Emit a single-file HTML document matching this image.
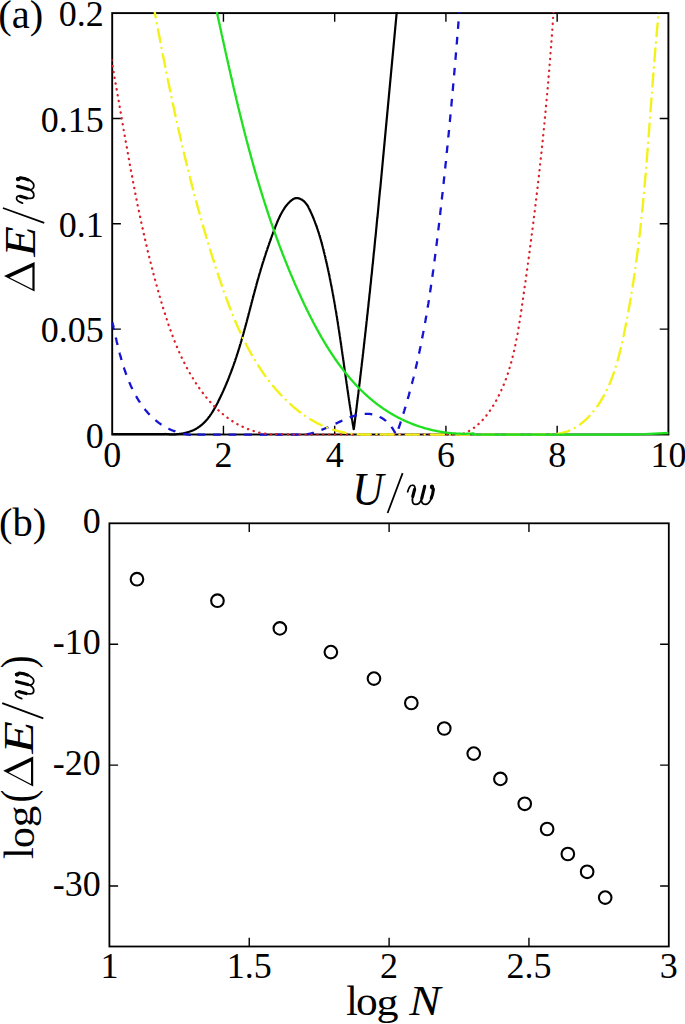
<!DOCTYPE html>
<html><head><meta charset="utf-8"><style>
html,body{margin:0;padding:0;background:#fff;}
body{width:685px;height:1024px;overflow:hidden;font-family:"Liberation Serif",serif;}
svg{display:block;}
</style></head><body>
<svg width="685" height="1024" viewBox="0 0 685 1024">
<defs><clipPath id="ca"><rect x="111.2" y="12.1" width="558.2" height="423.9"/></clipPath></defs>
<g fill="none" stroke="#000">
<rect x="112.20" y="13.10" width="556.20" height="421.40" stroke-width="1.9"/>
<path d="M223.44,434.50 V425.80 M223.44,13.10 V21.80 M334.68,434.50 V425.80 M334.68,13.10 V21.80 M445.92,434.50 V425.80 M445.92,13.10 V21.80 M557.16,434.50 V425.80 M557.16,13.10 V21.80 M112.20,329.15 H120.90 M668.40,329.15 H659.70 M112.20,223.80 H120.90 M668.40,223.80 H659.70 M112.20,118.45 H120.90 M668.40,118.45 H659.70" stroke-width="1.4"/>
</g>
<g clip-path="url(#ca)" fill="none" stroke-linejoin="round">
<path d="M112.20,434.20 L165.00,434.10 L165.1,433.9 L165.6,434.0 L166.1,434.0 L166.7,434.1 L167.2,434.1 L167.7,434.2 L168.3,434.2 L168.8,434.2 L169.4,434.3 L169.9,434.3 L170.5,434.3 L171.0,434.3 L171.6,434.3 L172.1,434.4 L172.7,434.3 L173.3,434.3 L173.8,434.3 L174.4,434.3 L175.0,434.3 L175.5,434.3 L176.1,434.2 L176.7,434.2 L177.2,434.1 L177.8,434.1 L178.4,434.0 L179.0,434.0 L179.5,433.9 L180.1,433.8 L180.7,433.8 L181.2,433.7 L181.8,433.6 L182.4,433.5 L183.0,433.4 L183.5,433.3 L184.1,433.2 L184.7,433.0 L185.2,432.9 L185.8,432.8 L186.3,432.6 L186.9,432.5 L187.4,432.3 L188.0,432.2 L188.5,432.0 L189.1,431.8 L189.6,431.6 L190.2,431.5 L190.7,431.3 L191.2,431.1 L191.7,430.9 L192.3,430.6 L192.8,430.4 L193.3,430.2 L193.8,430.0 L194.3,429.7 L194.8,429.5 L195.3,429.2 L195.8,429.0 L196.2,428.7 L196.7,428.4 L197.2,428.1 L197.6,427.8 L198.1,427.5 L198.5,427.2 L199.0,426.9 L199.4,426.6 L199.9,426.3 L200.3,426.0 L200.7,425.6 L201.2,425.3 L201.6,424.9 L202.0,424.6 L202.4,424.2 L202.8,423.9 L203.2,423.5 L203.6,423.1 L204.0,422.7 L204.4,422.4 L204.7,422.0 L205.1,421.6 L205.5,421.2 L205.9,420.8 L206.2,420.4 L206.6,420.0 L207.0,419.5 L207.3,419.1 L207.7,418.7 L208.0,418.3 L208.3,417.8 L208.7,417.4 L209.0,417.0 L209.4,416.5 L209.7,416.1 L210.0,415.6 L210.3,415.2 L210.6,414.7 L211.0,414.2 L211.3,413.8 L211.6,413.3 L211.9,412.8 L212.2,412.4 L212.5,411.9 L212.8,411.4 L213.1,410.9 L213.4,410.4 L213.7,410.0 L214.0,409.5 L214.2,409.0 L214.5,408.5 L214.8,408.0 L215.1,407.5 L215.4,407.0 L215.6,406.5 L215.9,406.0 L216.2,405.5 L216.4,405.0 L216.7,404.5 L217.0,404.0 L217.2,403.5 L217.5,403.0 L217.8,402.5 L218.0,402.0 L218.3,401.4 L218.5,400.9 L218.8,400.4 L219.0,399.9 L219.3,399.4 L219.5,398.9 L219.8,398.4 L220.0,397.9 L220.3,397.4 L220.5,396.8 L220.8,396.3 L221.0,395.8 L221.2,395.3 L221.5,394.8 L221.7,394.3 L222.0,393.8 L222.2,393.3 L222.4,392.7 L222.7,392.2 L222.9,391.7 L223.1,391.2 L223.4,390.7 L223.6,390.2 L223.8,389.7 L224.1,389.1 L224.3,388.6 L224.5,388.1 L224.7,387.6 L225.0,387.1 L225.2,386.6 L225.4,386.0 L225.6,385.5 L225.8,385.0 L226.1,384.5 L226.3,384.0 L226.5,383.5 L226.7,383.0 L226.9,382.4 L227.1,381.9 L227.4,381.4 L227.6,380.9 L227.8,380.4 L228.0,379.8 L228.2,379.3 L228.4,378.8 L228.6,378.3 L228.8,377.8 L229.0,377.3 L229.2,376.7 L229.4,376.2 L229.6,375.7 L229.8,375.2 L230.0,374.7 L230.2,374.1 L230.4,373.6 L230.6,373.1 L230.8,372.6 L231.0,372.1 L231.2,371.5 L231.4,371.0 L231.6,370.5 L231.8,370.0 L232.0,369.4 L232.2,368.9 L232.4,368.4 L232.6,367.9 L232.8,367.4 L232.9,366.8 L233.1,366.3 L233.3,365.8 L233.5,365.3 L233.7,364.7 L233.9,364.2 L234.1,363.7 L234.2,363.2 L234.4,362.6 L234.6,362.1 L234.8,361.6 L235.0,361.1 L235.2,360.5 L235.3,360.0 L235.5,359.5 L235.7,358.9 L235.9,358.4 L236.0,357.9 L236.2,357.4 L236.4,356.8 L236.6,356.3 L236.7,355.8 L236.9,355.2 L237.1,354.7 L237.3,354.2 L237.4,353.7 L237.6,353.1 L237.8,352.6 L237.9,352.1 L238.1,351.5 L238.3,351.0 L238.4,350.5 L238.6,349.9 L238.8,349.4 L238.9,348.9 L239.1,348.3 L239.3,347.8 L239.4,347.3 L239.6,346.7 L239.8,346.2 L239.9,345.7 L240.1,345.1 L240.2,344.6 L240.4,344.1 L240.6,343.5 L240.7,343.0 L240.9,342.4 L241.0,341.9 L241.2,341.4 L241.4,340.8 L241.5,340.3 L241.7,339.7 L241.8,339.2 L242.0,338.7 L242.1,338.1 L242.3,337.6 L242.5,337.0 L242.6,336.5 L242.8,336.0 L242.9,335.4 L243.1,334.9 L243.2,334.3 L243.4,333.8 L243.5,333.3 L243.7,332.7 L243.8,332.2 L244.0,331.6 L244.1,331.1 L244.3,330.5 L244.4,330.0 L244.6,329.4 L244.7,328.9 L244.9,328.4 L245.0,327.8 L245.2,327.3 L245.3,326.7 L245.5,326.2 L245.6,325.6 L245.8,325.1 L245.9,324.5 L246.1,324.0 L246.2,323.4 L246.4,322.9 L246.5,322.3 L246.7,321.8 L246.8,321.3 L246.9,320.7 L247.1,320.2 L247.2,319.6 L247.4,319.1 L247.5,318.5 L247.7,318.0 L247.8,317.4 L248.0,316.9 L248.1,316.3 L248.3,315.8 L248.4,315.2 L248.5,314.7 L248.7,314.1 L248.8,313.6 L249.0,313.0 L249.1,312.5 L249.3,311.9 L249.4,311.4 L249.5,310.8 L249.7,310.3 L249.8,309.7 L250.0,309.2 L250.1,308.6 L250.3,308.1 L250.4,307.5 L250.5,307.0 L250.7,306.5 L250.8,305.9 L251.0,305.4 L251.1,304.8 L251.3,304.3 L251.4,303.7 L251.5,303.2 L251.7,302.6 L251.8,302.1 L252.0,301.5 L252.1,301.0 L252.3,300.4 L252.4,299.9 L252.5,299.4 L252.7,298.8 L252.8,298.3 L253.0,297.7 L253.1,297.2 L253.3,296.6 L253.4,296.1 L253.5,295.5 L253.7,295.0 L253.8,294.5 L254.0,293.9 L254.1,293.4 L254.3,292.8 L254.4,292.3 L254.6,291.7 L254.7,291.2 L254.8,290.7 L255.0,290.1 L255.1,289.6 L255.3,289.0 L255.4,288.5 L255.6,288.0 L255.7,287.4 L255.9,286.9 L256.0,286.4 L256.2,285.8 L256.3,285.3 L256.4,284.7 L256.6,284.2 L256.7,283.7 L256.9,283.1 L257.0,282.6 L257.2,282.1 L257.3,281.5 L257.5,281.0 L257.6,280.5 L257.8,279.9 L257.9,279.4 L258.1,278.9 L258.2,278.4 L258.4,277.8 L258.5,277.3 L258.7,276.8 L258.8,276.2 L259.0,275.7 L259.1,275.2 L259.3,274.7 L259.4,274.1 L259.6,273.6 L259.7,273.1 L259.9,272.6 L260.1,272.0 L260.2,271.5 L260.4,271.0 L260.5,270.5 L260.7,269.9 L260.8,269.4 L261.0,268.9 L261.1,268.4 L261.3,267.8 L261.5,267.3 L261.6,266.8 L261.8,266.3 L261.9,265.8 L262.1,265.2 L262.3,264.7 L262.4,264.2 L262.6,263.7 L262.7,263.1 L262.9,262.6 L263.1,262.1 L263.2,261.6 L263.4,261.1 L263.6,260.5 L263.7,260.0 L263.9,259.5 L264.1,259.0 L264.2,258.4 L264.4,257.9 L264.6,257.4 L264.7,256.9 L264.9,256.4 L265.1,255.8 L265.2,255.3 L265.4,254.8 L265.6,254.3 L265.8,253.7 L265.9,253.2 L266.1,252.7 L266.3,252.2 L266.4,251.6 L266.6,251.1 L266.8,250.6 L267.0,250.1 L267.2,249.5 L267.3,249.0 L267.5,248.5 L267.7,248.0 L267.9,247.4 L268.1,246.9 L268.2,246.4 L268.4,245.9 L268.6,245.3 L268.8,244.8 L269.0,244.3 L269.2,243.7 L269.3,243.2 L269.5,242.7 L269.7,242.1 L269.9,241.6 L270.1,241.1 L270.3,240.5 L270.5,240.0 L270.7,239.5 L270.9,238.9 L271.0,238.4 L271.2,237.9 L271.4,237.3 L271.6,236.8 L271.8,236.2 L272.0,235.7 L272.2,235.2 L272.4,234.6 L272.6,234.1 L272.8,233.5 L273.0,233.0 L273.2,232.4 L273.4,231.9 L273.6,231.4 L273.8,230.8 L274.0,230.3 L274.3,229.7 L274.5,229.2 L274.7,228.6 L274.9,228.1 L275.1,227.5 L275.3,226.9 L275.5,226.4 L275.7,225.8 L276.0,225.3 L276.2,224.7 L276.4,224.2 L276.6,223.6 L276.8,223.1 L277.1,222.5 L277.3,222.0 L277.5,221.4 L277.8,220.9 L278.0,220.4 L278.2,219.8 L278.5,219.3 L278.7,218.7 L279.0,218.2 L279.2,217.7 L279.5,217.1 L279.7,216.6 L280.0,216.1 L280.2,215.6 L280.5,215.0 L280.7,214.5 L281.0,214.0 L281.3,213.5 L281.6,213.0 L281.8,212.5 L282.1,212.0 L282.4,211.5 L282.7,211.0 L283.0,210.5 L283.3,210.0 L283.6,209.5 L283.9,209.1 L284.2,208.6 L284.5,208.1 L284.8,207.7 L285.1,207.2 L285.4,206.8 L285.8,206.3 L286.1,205.9 L286.4,205.5 L286.8,205.0 L287.1,204.6 L287.5,204.2 L287.8,203.8 L288.2,203.4 L288.6,203.0 L288.9,202.6 L289.3,202.3 L289.7,201.9 L290.1,201.5 L290.5,201.2 L290.9,200.8 L291.3,200.5 L291.7,200.2 L292.1,199.9 L292.5,199.6 L292.9,199.3 L293.3,199.0 L293.8,198.8 L294.2,198.6 L294.7,198.5 L295.1,198.3 L295.6,198.2 L296.1,198.1 L296.5,198.1 L297.0,198.1 L297.5,198.1 L298.0,198.2 L298.5,198.3 L299.0,198.4 L299.4,198.6 L299.9,198.7 L300.4,198.9 L300.9,199.2 L301.4,199.4 L301.9,199.7 L302.3,200.0 L302.8,200.3 L303.2,200.7 L303.7,201.0 L304.1,201.4 L304.5,201.8 L304.9,202.2 L305.3,202.6 L305.7,203.1 L306.0,203.5 L306.4,204.0 L306.7,204.5 L307.1,204.9 L307.4,205.4 L307.7,205.9 L308.0,206.4 L308.3,206.9 L308.5,207.4 L308.8,208.0 L309.1,208.5 L309.3,209.0 L309.6,209.5 L309.8,210.1 L310.1,210.6 L310.3,211.1 L310.6,211.6 L310.8,212.2 L311.1,212.7 L311.3,213.2 L311.5,213.7 L311.8,214.3 L312.0,214.8 L312.2,215.3 L312.5,215.9 L312.7,216.4 L312.9,216.9 L313.1,217.5 L313.4,218.0 L313.6,218.5 L313.8,219.0 L314.0,219.6 L314.2,220.1 L314.4,220.6 L314.6,221.2 L314.8,221.7 L315.0,222.2 L315.2,222.8 L315.4,223.3 L315.6,223.8 L315.8,224.4 L316.0,224.9 L316.2,225.4 L316.4,226.0 L316.6,226.5 L316.8,227.0 L317.0,227.6 L317.1,228.1 L317.3,228.6 L317.5,229.2 L317.7,229.7 L317.9,230.2 L318.0,230.8 L318.2,231.3 L318.4,231.8 L318.6,232.4 L318.7,232.9 L318.9,233.4 L319.1,234.0 L319.2,234.5 L319.4,235.1 L319.6,235.6 L319.7,236.1 L319.9,236.7 L320.0,237.2 L320.2,237.7 L320.4,238.3 L320.5,238.8 L320.7,239.4 L320.8,239.9 L321.0,240.4 L321.1,241.0 L321.3,241.5 L321.4,242.0 L321.6,242.6 L321.7,243.1 L321.9,243.7 L322.0,244.2 L322.1,244.7 L322.3,245.3 L322.4,245.8 L322.6,246.4 L322.7,246.9 L322.9,247.4 L323.0,248.0 L323.1,248.5 L323.3,249.1 L323.4,249.6 L323.5,250.1 L323.7,250.7 L323.8,251.2 L323.9,251.8 L324.1,252.3 L324.2,252.8 L324.3,253.4 L324.5,253.9 L324.6,254.5 L324.7,255.0 L324.9,255.6 L325.0,256.1 L325.1,256.6 L325.3,257.2 L325.4,257.7 L325.5,258.3 L325.6,258.8 L325.8,259.4 L325.9,259.9 L326.0,260.5 L326.1,261.0 L326.3,261.5 L326.4,262.1 L326.5,262.6 L326.6,263.2 L326.8,263.7 L326.9,264.3 L327.0,264.8 L327.1,265.4 L327.3,265.9 L327.4,266.4 L327.5,267.0 L327.6,267.5 L327.7,268.1 L327.9,268.6 L328.0,269.2 L328.1,269.7 L328.2,270.3 L328.3,270.8 L328.4,271.4 L328.6,271.9 L328.7,272.4 L328.8,273.0 L328.9,273.5 L329.0,274.1 L329.1,274.6 L329.3,275.2 L329.4,275.7 L329.5,276.3 L329.6,276.8 L329.7,277.4 L329.8,277.9 L329.9,278.5 L330.0,279.0 L330.1,279.6 L330.3,280.1 L330.4,280.7 L330.5,281.2 L330.6,281.8 L330.7,282.3 L330.8,282.9 L330.9,283.4 L331.0,284.0 L331.1,284.5 L331.2,285.1 L331.3,285.6 L331.4,286.2 L331.6,286.7 L331.7,287.3 L331.8,287.8 L331.9,288.4 L332.0,288.9 L332.1,289.5 L332.2,290.0 L332.3,290.6 L332.4,291.1 L332.5,291.7 L332.6,292.2 L332.7,292.8 L332.8,293.3 L332.9,293.9 L333.0,294.4 L333.1,295.0 L333.2,295.5 L333.3,296.1 L333.4,296.6 L333.5,297.2 L333.6,297.7 L333.7,298.3 L333.8,298.8 L333.9,299.4 L334.0,299.9 L334.1,300.5 L334.2,301.0 L334.3,301.6 L334.4,302.1 L334.5,302.7 L334.6,303.2 L334.7,303.8 L334.8,304.3 L334.9,304.9 L335.0,305.4 L335.0,306.0 L335.1,306.5 L335.2,307.1 L335.3,307.7 L335.4,308.2 L335.5,308.8 L335.6,309.3 L335.7,309.9 L335.8,310.4 L335.9,311.0 L336.0,311.5 L336.1,312.1 L336.2,312.6 L336.3,313.2 L336.3,313.7 L336.4,314.3 L336.5,314.8 L336.6,315.4 L336.7,316.0 L336.8,316.5 L336.9,317.1 L337.0,317.6 L337.1,318.2 L337.2,318.7 L337.2,319.3 L337.3,319.8 L337.4,320.4 L337.5,320.9 L337.6,321.5 L337.7,322.1 L337.8,322.6 L337.9,323.2 L337.9,323.7 L338.0,324.3 L338.1,324.8 L338.2,325.4 L338.3,325.9 L338.4,326.5 L338.5,327.0 L338.5,327.6 L338.6,328.2 L338.7,328.7 L338.8,329.3 L338.9,329.8 L339.0,330.4 L339.1,330.9 L339.1,331.5 L339.2,332.0 L339.3,332.6 L339.4,333.1 L339.5,333.7 L339.6,334.3 L339.6,334.8 L339.7,335.4 L339.8,335.9 L339.9,336.5 L340.0,337.0 L340.1,337.6 L340.1,338.1 L340.2,338.7 L340.3,339.3 L340.4,339.8 L340.5,340.4 L340.6,340.9 L340.6,341.5 L340.7,342.0 L340.8,342.6 L340.9,343.1 L341.0,343.7 L341.0,344.3 L341.1,344.8 L341.2,345.4 L341.3,345.9 L341.4,346.5 L341.4,347.0 L341.5,347.6 L341.6,348.2 L341.7,348.7 L341.8,349.3 L341.8,349.8 L341.9,350.4 L342.0,350.9 L342.1,351.5 L342.2,352.0 L342.2,352.6 L342.3,353.2 L342.4,353.7 L342.5,354.3 L342.6,354.8 L342.6,355.4 L342.7,355.9 L342.8,356.5 L342.9,357.0 L343.0,357.6 L343.0,358.2 L343.1,358.7 L343.2,359.3 L343.3,359.8 L343.4,360.4 L343.4,360.9 L343.5,361.5 L343.6,362.1 L343.7,362.6 L343.8,363.2 L343.8,363.7 L343.9,364.3 L344.0,364.8 L344.1,365.4 L344.1,365.9 L344.2,366.5 L344.3,367.1 L344.4,367.6 L344.5,368.2 L344.5,368.7 L344.6,369.3 L344.7,369.8 L344.8,370.4 L344.9,370.9 L344.9,371.5 L345.0,372.1 L345.1,372.6 L345.2,373.2 L345.3,373.7 L345.3,374.3 L345.4,374.8 L345.5,375.4 L345.6,376.0 L345.6,376.5 L345.7,377.1 L345.8,377.6 L345.9,378.2 L346.0,378.7 L346.0,379.3 L346.1,379.8 L346.2,380.4 L346.3,381.0 L346.4,381.5 L346.4,382.1 L346.5,382.6 L346.6,383.2 L346.7,383.7 L346.8,384.3 L346.8,384.8 L346.9,385.4 L347.0,385.9 L347.1,386.5 L347.2,387.1 L347.2,387.6 L347.3,388.2 L347.4,388.7 L347.5,389.3 L347.6,389.8 L347.6,390.4 L347.7,390.9 L347.8,391.5 L347.9,392.1 L348.0,392.6 L348.0,393.2 L348.1,393.7 L348.2,394.3 L348.3,394.8 L348.4,395.4 L348.4,395.9 L348.5,396.5 L348.6,397.0 L348.7,397.6 L348.8,398.2 L348.9,398.7 L348.9,399.3 L349.0,399.8 L349.1,400.4 L349.2,400.9 L349.3,401.5 L349.4,402.0 L349.4,402.6 L349.5,403.1 L349.6,403.7 L349.7,404.2 L349.8,404.8 L349.9,405.3 L349.9,405.9 L350.0,406.5 L350.1,407.0 L350.2,407.6 L350.3,408.1 L350.4,408.7 L350.4,409.2 L350.5,409.8 L350.6,410.3 L350.7,410.9 L350.8,411.4 L350.9,412.0 L351.0,412.5 L351.0,413.1 L351.1,413.6 L351.2,414.2 L351.3,414.7 L351.4,415.3 L351.5,415.8 L351.6,416.4 L351.7,417.0 L351.7,417.5 L351.8,418.1 L351.9,418.6 L352.0,419.2 L352.1,419.7 L352.2,420.3 L352.3,420.8 L352.4,421.4 L352.5,421.9 L352.5,422.5 L352.6,423.0 L352.7,423.6 L352.8,424.1 L352.9,424.7 L353.0,425.2 L353.1,425.8 L353.2,426.3 L353.3,426.9 L353.4,427.4 L353.5,428.0 L353.5,428.5 L353.6,429.1 L353.8,429.1 L354.0,428.0 L354.1,427.0 L354.3,425.9 L354.4,424.8 L354.5,423.8 L354.7,422.7 L354.8,421.6 L354.9,420.6 L355.1,419.5 L355.2,418.4 L355.3,417.4 L355.5,416.3 L355.6,415.2 L355.7,414.2 L355.9,413.1 L356.0,412.1 L356.2,411.0 L356.3,409.9 L356.4,408.9 L356.6,407.8 L356.7,406.7 L356.8,405.7 L356.9,404.6 L357.1,403.5 L357.2,402.5 L357.3,401.4 L357.5,400.3 L357.6,399.3 L357.7,398.2 L357.9,397.1 L358.0,396.1 L358.1,395.0 L358.3,393.9 L358.4,392.9 L358.5,391.8 L358.6,390.7 L358.8,389.7 L358.9,388.6 L359.0,387.5 L359.2,386.5 L359.3,385.4 L359.4,384.4 L359.6,383.3 L359.7,382.2 L359.8,381.2 L359.9,380.1 L360.1,379.0 L360.2,378.0 L360.3,376.9 L360.4,375.8 L360.6,374.8 L360.7,373.7 L360.8,372.6 L360.9,371.6 L361.1,370.5 L361.2,369.4 L361.3,368.4 L361.4,367.3 L361.6,366.2 L361.7,365.2 L361.8,364.1 L361.9,363.0 L362.1,362.0 L362.2,360.9 L362.3,359.8 L362.4,358.8 L362.6,357.7 L362.7,356.6 L362.8,355.6 L362.9,354.5 L363.1,353.4 L363.2,352.4 L363.3,351.3 L363.4,350.2 L363.5,349.2 L363.7,348.1 L363.8,347.0 L363.9,346.0 L364.0,344.9 L364.1,343.8 L364.3,342.8 L364.4,341.7 L364.5,340.6 L364.6,339.6 L364.7,338.5 L364.9,337.4 L365.0,336.4 L365.1,335.3 L365.2,334.2 L365.3,333.2 L365.5,332.1 L365.6,331.0 L365.7,330.0 L365.8,328.9 L365.9,327.8 L366.1,326.8 L366.2,325.7 L366.3,324.6 L366.4,323.6 L366.5,322.5 L366.6,321.4 L366.8,320.4 L366.9,319.3 L367.0,318.2 L367.1,317.2 L367.2,316.1 L367.3,315.0 L367.5,314.0 L367.6,312.9 L367.7,311.8 L367.8,310.8 L367.9,309.7 L368.0,308.6 L368.2,307.6 L368.3,306.5 L368.4,305.4 L368.5,304.4 L368.6,303.3 L368.7,302.2 L368.8,301.2 L369.0,300.1 L369.1,299.0 L369.2,297.9 L369.3,296.9 L369.4,295.8 L369.5,294.7 L369.6,293.7 L369.8,292.6 L369.9,291.5 L370.0,290.5 L370.1,289.4 L370.2,288.3 L370.3,287.3 L370.4,286.2 L370.5,285.1 L370.7,284.1 L370.8,283.0 L370.9,281.9 L371.0,280.9 L371.1,279.8 L371.2,278.7 L371.3,277.7 L371.4,276.6 L371.5,275.5 L371.7,274.5 L371.8,273.4 L371.9,272.3 L372.0,271.3 L372.1,270.2 L372.2,269.1 L372.3,268.1 L372.4,267.0 L372.5,265.9 L372.6,264.8 L372.8,263.8 L372.9,262.7 L373.0,261.6 L373.1,260.6 L373.2,259.5 L373.3,258.4 L373.4,257.4 L373.5,256.3 L373.6,255.2 L373.7,254.2 L373.8,253.1 L373.9,252.0 L374.1,251.0 L374.2,249.9 L374.3,248.8 L374.4,247.8 L374.5,246.7 L374.6,245.6 L374.7,244.6 L374.8,243.5 L374.9,242.4 L375.0,241.4 L375.1,240.3 L375.2,239.2 L375.3,238.1 L375.5,237.1 L375.6,236.0 L375.7,234.9 L375.8,233.9 L375.9,232.8 L376.0,231.7 L376.1,230.7 L376.2,229.6 L376.3,228.5 L376.4,227.5 L376.5,226.4 L376.6,225.3 L376.7,224.3 L376.8,223.2 L376.9,222.1 L377.0,221.1 L377.1,220.0 L377.2,218.9 L377.4,217.8 L377.5,216.8 L377.6,215.7 L377.7,214.6 L377.8,213.6 L377.9,212.5 L378.0,211.4 L378.1,210.4 L378.2,209.3 L378.3,208.2 L378.4,207.2 L378.5,206.1 L378.6,205.0 L378.7,204.0 L378.8,202.9 L378.9,201.8 L379.0,200.7 L379.1,199.7 L379.2,198.6 L379.3,197.5 L379.4,196.5 L379.5,195.4 L379.6,194.3 L379.7,193.3 L379.8,192.2 L379.9,191.1 L380.0,190.1 L380.2,189.0 L380.3,187.9 L380.4,186.9 L380.5,185.8 L380.6,184.7 L380.7,183.7 L380.8,182.6 L380.9,181.5 L381.0,180.4 L381.1,179.4 L381.2,178.3 L381.3,177.2 L381.4,176.2 L381.5,175.1 L381.6,174.0 L381.7,173.0 L381.8,171.9 L381.9,170.8 L382.0,169.8 L382.1,168.7 L382.2,167.6 L382.3,166.5 L382.4,165.5 L382.5,164.4 L382.6,163.3 L382.7,162.3 L382.8,161.2 L382.9,160.1 L383.0,159.1 L383.1,158.0 L383.2,156.9 L383.3,155.9 L383.4,154.8 L383.5,153.7 L383.6,152.7 L383.7,151.6 L383.8,150.5 L383.9,149.4 L384.0,148.4 L384.1,147.3 L384.2,146.2 L384.3,145.2 L384.4,144.1 L384.5,143.0 L384.6,142.0 L384.7,140.9 L384.8,139.8 L384.9,138.8 L385.0,137.7 L385.1,136.6 L385.2,135.6 L385.3,134.5 L385.4,133.4 L385.5,132.3 L385.6,131.3 L385.7,130.2 L385.8,129.1 L385.9,128.1 L386.0,127.0 L386.1,125.9 L386.2,124.9 L386.3,123.8 L386.4,122.7 L386.5,121.7 L386.6,120.6 L386.7,119.5 L386.8,118.4 L386.9,117.4 L387.0,116.3 L387.1,115.2 L387.2,114.2 L387.3,113.1 L387.4,112.0 L387.5,111.0 L387.6,109.9 L387.7,108.8 L387.8,107.8 L387.9,106.7 L388.0,105.6 L388.1,104.5 L388.2,103.5 L388.3,102.4 L388.4,101.3 L388.5,100.3 L388.6,99.2 L388.7,98.1 L388.8,97.1 L388.9,96.0 L389.0,94.9 L389.1,93.9 L389.2,92.8 L389.3,91.7 L389.4,90.7 L389.5,89.6 L389.6,88.5 L389.7,87.4 L389.8,86.4 L389.9,85.3 L390.0,84.2 L390.1,83.2 L390.2,82.1 L390.3,81.0 L390.4,80.0 L390.5,78.9 L390.6,77.8 L390.7,76.8 L390.8,75.7 L390.9,74.6 L391.0,73.5 L391.1,72.5 L391.2,71.4 L391.3,70.3 L391.4,69.3 L391.5,68.2 L391.6,67.1 L391.7,66.1 L391.8,65.0 L391.9,63.9 L392.0,62.9 L392.1,61.8 L392.2,60.7 L392.3,59.7 L392.4,58.6 L392.5,57.5 L392.6,56.4 L392.7,55.4 L392.8,54.3 L392.9,53.2 L393.0,52.2 L393.1,51.1 L393.2,50.0 L393.3,49.0 L393.4,47.9 L393.5,46.8 L393.6,45.8 L393.7,44.7 L393.8,43.6 L393.9,42.5 L394.0,41.5 L394.1,40.4 L394.2,39.3 L394.3,38.3 L394.4,37.2 L394.5,36.1 L394.6,35.1 L394.7,34.0 L394.8,32.9 L394.9,31.9 L395.0,30.8 L395.1,29.7 L395.2,28.7 L395.3,27.6 L395.4,26.5 L395.5,25.4 L395.6,24.4 L395.7,23.3 L395.8,22.2 L395.9,21.2 L396.0,20.1 L396.1,19.0 L396.2,18.0 L396.3,16.9 L396.4,15.8 L396.5,14.8 L396.6,13.7 L396.7,12.6 L396.8,11.6 L396.9,10.5 L397.0,9.4 L397.1,8.3 L397.2,7.3 L397.3,6.2 L397.4,5.1 L397.5,4.1 L397.6,3.0" stroke="#000" stroke-width="2.2"/>
<path d="M112.5,322.3 L112.6,322.8 L112.7,323.2 L112.8,323.6 L112.9,324.1 L113.0,324.5 L113.1,325.0 L113.2,325.4 L113.3,325.8 L113.4,326.3 L113.4,326.7 L113.5,327.2 L113.6,327.6 L113.7,328.1 L113.8,328.5 L113.9,329.0 L114.0,329.4 L114.1,329.9 L114.2,330.3 L114.3,330.8 L114.4,331.2 L114.5,331.7 L114.6,332.1 L114.7,332.6 L114.8,333.1 L114.9,333.5 L115.0,334.0 L115.1,334.4 L115.2,334.9 L115.3,335.4 L115.4,335.8 L115.5,336.3 L115.6,336.8 L115.7,337.2 L115.8,337.7 L115.9,338.2 L116.1,338.6 L116.2,339.1 L116.3,339.6 L116.4,340.1 L116.5,340.5 L116.6,341.0 L116.7,341.5 L116.8,341.9 L116.9,342.4 L117.0,342.9 L117.2,343.4 L117.3,343.8 L117.4,344.3 L117.5,344.8 L117.6,345.3 L117.7,345.8 L117.8,346.2 L118.0,346.7 L118.1,347.2 L118.2,347.7 L118.3,348.2 L118.4,348.6 L118.6,349.1 L118.7,349.6 L118.8,350.1 L118.9,350.6 L119.1,351.0 L119.2,351.5 L119.3,352.0 L119.4,352.5 L119.6,353.0 L119.7,353.5 L119.8,353.9 L120.0,354.4 L120.1,354.9 L120.2,355.4 L120.4,355.9 L120.5,356.4 L120.6,356.8 L120.8,357.3 L120.9,357.8 L121.0,358.3 L121.2,358.8 L121.3,359.3 L121.5,359.8 L121.6,360.2 L121.7,360.7 L121.9,361.2 L122.0,361.7 L122.2,362.2 L122.3,362.7 L122.5,363.1 L122.6,363.6 L122.8,364.1 L122.9,364.6 L123.1,365.1 L123.2,365.6 L123.4,366.0 L123.5,366.5 L123.7,367.0 L123.8,367.5 L124.0,368.0 L124.2,368.5 L124.3,368.9 L124.5,369.4 L124.6,369.9 L124.8,370.4 L125.0,370.9 L125.1,371.3 L125.3,371.8 L125.5,372.3 L125.6,372.8 L125.8,373.2 L126.0,373.7 L126.2,374.2 L126.3,374.7 L126.5,375.1 L126.7,375.6 L126.9,376.1 L127.0,376.6 L127.2,377.0 L127.4,377.5 L127.6,378.0 L127.8,378.5 L128.0,378.9 L128.1,379.4 L128.3,379.9 L128.5,380.3 L128.7,380.8 L128.9,381.3 L129.1,381.7 L129.3,382.2 L129.5,382.7 L129.7,383.1 L129.9,383.6 L130.1,384.0 L130.3,384.5 L130.5,385.0 L130.7,385.4 L130.9,385.9 L131.1,386.3 L131.3,386.8 L131.5,387.2 L131.7,387.7 L132.0,388.1 L132.2,388.6 L132.4,389.0 L132.6,389.5 L132.8,389.9 L133.0,390.4 L133.3,390.8 L133.5,391.3 L133.7,391.7 L133.9,392.2 L134.2,392.6 L134.4,393.0 L134.6,393.5 L134.9,393.9 L135.1,394.3 L135.3,394.8 L135.6,395.2 L135.8,395.6 L136.0,396.1 L136.3,396.5 L136.5,396.9 L136.8,397.3 L137.0,397.8 L137.3,398.2 L137.5,398.6 L137.8,399.0 L138.0,399.5 L138.3,399.9 L138.5,400.3 L138.8,400.7 L139.1,401.1 L139.3,401.5 L139.6,401.9 L139.9,402.3 L140.1,402.7 L140.4,403.1 L140.7,403.5 L140.9,404.0 L141.2,404.3 L141.5,404.7 L141.8,405.1 L142.0,405.5 L142.3,405.9 L142.6,406.3 L142.9,406.7 L143.2,407.1 L143.5,407.5 L143.8,407.9 L144.0,408.2 L144.3,408.6 L144.6,409.0 L144.9,409.4 L145.2,409.7 L145.5,410.1 L145.8,410.5 L146.1,410.8 L146.5,411.2 L146.8,411.6 L147.1,411.9 L147.4,412.3 L147.7,412.7 L148.0,413.0 L148.3,413.4 L148.7,413.7 L149.0,414.1 L149.3,414.4 L149.6,414.7 L150.0,415.1 L150.3,415.4 L150.6,415.8 L151.0,416.1 L151.3,416.4 L151.6,416.8 L152.0,417.1 L152.3,417.4 L152.7,417.7 L153.0,418.1 L153.4,418.4 L153.7,418.7 L154.1,419.0 L154.4,419.3 L154.8,419.6 L155.1,419.9 L155.5,420.2 L155.9,420.5 L156.2,420.8 L156.6,421.1 L157.0,421.4 L157.3,421.7 L157.7,422.0 L158.1,422.3 L158.5,422.6 L158.9,422.9 L159.2,423.1 L159.6,423.4 L160.0,423.7 L160.4,424.0 L160.8,424.2 L161.2,424.5 L161.6,424.8 L162.0,425.0 L162.4,425.3 L162.8,425.5 L163.2,425.8 L163.6,426.0 L164.0,426.3 L164.4,426.5 L164.8,426.7 L165.3,427.0 L165.7,427.2 L166.1,427.4 L166.5,427.7 L167.0,427.9 L167.4,428.1 L167.8,428.3 L168.3,428.6 L168.7,428.8 L169.1,429.0 L169.6,429.2 L170.0,429.4 L170.5,429.6 L170.9,429.8 L171.4,430.0 L171.8,430.2 L172.3,430.4 L172.7,430.5 L173.2,430.7 L173.7,430.9 L174.1,431.1 L174.6,431.2 L175.1,431.4 L175.5,431.6 L176.0,431.7 L176.5,431.9 L177.0,432.0 L177.5,432.2 L177.9,432.3 L178.4,432.5 L178.9,432.6 L179.4,432.8 L179.9,432.9 L180.4,433.0 L180.9,433.2 L181.4,433.3 L181.9,433.4 L182.4,433.5 L183.0,433.6 L183.5,433.7 L184.0,433.8 L184.5,433.9 L185.0,434.0 L185.6,434.1 L186.1,434.2 L186.6,434.3 L187.2,434.4 L187.7,434.5 L188.2,434.6 L188.8,434.6 L189.3,434.7 L189.9,434.8 L189.50,434.20 L200.00,434.60 L300.00,434.60 L300.5,434.7 L300.8,434.7 L301.1,434.7 L301.4,434.7 L301.7,434.7 L302.1,434.7 L302.4,434.7 L302.7,434.7 L303.0,434.7 L303.4,434.7 L303.7,434.6 L304.0,434.6 L304.3,434.6 L304.7,434.6 L305.0,434.5 L305.3,434.5 L305.6,434.4 L306.0,434.4 L306.3,434.4 L306.6,434.3 L307.0,434.3 L307.3,434.2 L307.6,434.2 L307.9,434.1 L308.3,434.0 L308.6,434.0 L308.9,433.9 L309.3,433.8 L309.6,433.8 L309.9,433.7 L310.3,433.6 L310.6,433.6 L310.9,433.5 L311.2,433.4 L311.6,433.3 L311.9,433.2 L312.2,433.1 L312.6,433.0 L312.9,432.9 L313.2,432.8 L313.6,432.8 L313.9,432.7 L314.2,432.5 L314.6,432.4 L314.9,432.3 L315.2,432.2 L315.6,432.1 L315.9,432.0 L316.3,431.9 L316.6,431.8 L316.9,431.7 L317.3,431.5 L317.6,431.4 L317.9,431.3 L318.3,431.2 L318.6,431.1 L318.9,430.9 L319.3,430.8 L319.6,430.7 L320.0,430.5 L320.3,430.4 L320.6,430.3 L321.0,430.1 L321.3,430.0 L321.6,429.9 L322.0,429.7 L322.3,429.6 L322.7,429.5 L323.0,429.3 L323.3,429.2 L323.7,429.0 L324.0,428.9 L324.4,428.7 L324.7,428.6 L325.0,428.5 L325.4,428.3 L325.7,428.2 L326.1,428.0 L326.4,427.9 L326.7,427.7 L327.1,427.6 L327.4,427.4 L327.8,427.3 L328.1,427.1 L328.5,426.9 L328.8,426.8 L329.1,426.6 L329.5,426.5 L329.8,426.3 L330.2,426.2 L330.5,426.0 L330.8,425.9 L331.2,425.7 L331.5,425.6 L331.9,425.4 L332.2,425.2 L332.6,425.1 L332.9,424.9 L333.2,424.8 L333.6,424.6 L333.9,424.4 L334.3,424.3 L334.6,424.1 L335.0,424.0 L335.3,423.8 L335.7,423.7 L336.0,423.5 L336.3,423.3 L336.7,423.2 L337.0,423.0 L337.4,422.9 L337.7,422.7 L338.1,422.5 L338.4,422.4 L338.7,422.2 L339.1,422.1 L339.4,421.9 L339.8,421.7 L340.1,421.6 L340.5,421.4 L340.8,421.3 L341.2,421.1 L341.5,421.0 L341.8,420.8 L342.2,420.6 L342.5,420.5 L342.9,420.3 L343.2,420.2 L343.6,420.0 L343.9,419.9 L344.3,419.7 L344.6,419.6 L345.0,419.4 L345.3,419.3 L345.6,419.1 L346.0,419.0 L346.3,418.8 L346.7,418.7 L347.0,418.5 L347.4,418.4 L347.7,418.3 L348.1,418.1 L348.4,418.0 L348.7,417.8 L349.1,417.7 L349.4,417.6 L349.8,417.4 L350.1,417.3 L350.5,417.2 L350.8,417.0 L351.2,416.9 L351.5,416.8 L351.8,416.7 L352.2,416.5 L352.5,416.4 L352.9,416.3 L353.2,416.2 L353.6,416.1 L353.9,416.0 L354.2,415.8 L354.6,415.7 L354.9,415.6 L355.3,415.5 L355.6,415.4 L356.0,415.3 L356.3,415.2 L356.7,415.1 L357.0,415.1 L357.3,415.0 L357.7,414.9 L358.0,414.8 L358.4,414.7 L358.7,414.6 L359.1,414.6 L359.4,414.5 L359.7,414.4 L360.1,414.4 L360.4,414.3 L360.8,414.2 L361.1,414.2 L361.4,414.1 L361.8,414.1 L362.1,414.0 L362.5,414.0 L362.8,414.0 L363.1,413.9 L363.5,413.9 L363.8,413.9 L364.2,413.8 L364.5,413.8 L364.9,413.8 L365.2,413.8 L365.5,413.8 L365.9,413.8 L366.2,413.8 L366.5,413.8 L366.9,413.8 L367.2,413.8 L367.6,413.8 L367.9,413.8 L368.2,413.8 L368.6,413.8 L368.9,413.9 L369.2,413.9 L369.6,413.9 L369.9,414.0 L370.3,414.0 L370.6,414.1 L370.9,414.1 L371.3,414.2 L371.6,414.2 L371.9,414.3 L372.2,414.3 L372.6,414.4 L372.9,414.5 L373.2,414.5 L373.6,414.6 L373.9,414.7 L374.2,414.8 L374.5,414.9 L374.9,415.0 L375.2,415.1 L375.5,415.2 L375.8,415.3 L376.2,415.4 L376.5,415.5 L376.8,415.6 L377.1,415.7 L377.4,415.9 L377.7,416.0 L378.1,416.1 L378.4,416.2 L378.7,416.4 L379.0,416.5 L379.3,416.7 L379.6,416.8 L379.9,417.0 L380.2,417.1 L380.5,417.3 L380.8,417.4 L381.1,417.6 L381.4,417.8 L381.7,418.0 L382.0,418.1 L382.3,418.3 L382.6,418.5 L382.9,418.7 L383.2,418.9 L383.5,419.1 L383.8,419.3 L384.1,419.5 L384.4,419.7 L384.6,419.9 L384.9,420.1 L385.2,420.4 L385.5,420.6 L385.8,420.8 L386.0,421.0 L386.3,421.3 L386.6,421.5 L386.9,421.8 L387.1,422.0 L387.4,422.3 L387.6,422.5 L387.9,422.8 L388.2,423.0 L388.4,423.3 L388.7,423.6 L388.9,423.8 L389.2,424.1 L389.4,424.4 L389.7,424.7 L389.9,425.0 L390.2,425.3 L390.4,425.5 L390.7,425.8 L390.9,426.1 L391.1,426.5 L391.4,426.8 L391.6,427.1 L391.8,427.4 L392.0,427.7 L392.3,428.0 L392.5,428.4 L392.7,428.7 L392.9,429.0 L393.1,429.4 L393.3,429.7 L393.6,430.1 L393.8,430.4 L394.0,430.8 L394.2,431.1 L394.4,431.5 L394.6,431.9 L394.8,432.2 L394.9,432.6 L395.1,433.0 L395.3,433.4 L395.5,433.8 L395.7,434.1 L396.4,434.6 L396.7,433.8 L397.0,433.1 L397.2,432.3 L397.5,431.6 L397.8,430.8 L398.0,430.0 L398.3,429.3 L398.5,428.5 L398.8,427.8 L399.1,427.0 L399.3,426.2 L399.6,425.5 L399.8,424.7 L400.1,424.0 L400.3,423.2 L400.6,422.4 L400.8,421.7 L401.1,420.9 L401.3,420.1 L401.6,419.4 L401.8,418.6 L402.1,417.9 L402.3,417.1 L402.5,416.3 L402.8,415.6 L403.0,414.8 L403.3,414.0 L403.5,413.3 L403.7,412.5 L404.0,411.7 L404.2,411.0 L404.4,410.2 L404.7,409.5 L404.9,408.7 L405.1,407.9 L405.4,407.2 L405.6,406.4 L405.8,405.6 L406.0,404.9 L406.3,404.1 L406.5,403.3 L406.7,402.6 L406.9,401.8 L407.2,401.0 L407.4,400.3 L407.6,399.5 L407.8,398.7 L408.0,398.0 L408.3,397.2 L408.5,396.4 L408.7,395.7 L408.9,394.9 L409.1,394.1 L409.3,393.4 L409.5,392.6 L409.7,391.8 L409.9,391.1 L410.2,390.3 L410.4,389.5 L410.6,388.7 L410.8,388.0 L411.0,387.2 L411.2,386.4 L411.4,385.7 L411.6,384.9 L411.8,384.1 L412.0,383.4 L412.2,382.6 L412.4,381.8 L412.6,381.0 L412.8,380.3 L413.0,379.5 L413.2,378.7 L413.4,378.0 L413.6,377.2 L413.7,376.4 L413.9,375.6 L414.1,374.9 L414.3,374.1 L414.5,373.3 L414.7,372.6 L414.9,371.8 L415.1,371.0 L415.2,370.2 L415.4,369.5 L415.6,368.7 L415.8,367.9 L416.0,367.1 L416.2,366.4 L416.3,365.6 L416.5,364.8 L416.7,364.1 L416.9,363.3 L417.0,362.5 L417.2,361.7 L417.4,361.0 L417.6,360.2 L417.7,359.4 L417.9,358.6 L418.1,357.9 L418.3,357.1 L418.4,356.3 L418.6,355.5 L418.8,354.7 L418.9,354.0 L419.1,353.2 L419.3,352.4 L419.4,351.6 L419.6,350.9 L419.8,350.1 L419.9,349.3 L420.1,348.5 L420.3,347.8 L420.4,347.0 L420.6,346.2 L420.7,345.4 L420.9,344.6 L421.0,343.9 L421.2,343.1 L421.4,342.3 L421.5,341.5 L421.7,340.8 L421.8,340.0 L422.0,339.2 L422.1,338.4 L422.3,337.6 L422.4,336.9 L422.6,336.1 L422.7,335.3 L422.9,334.5 L423.0,333.7 L423.2,333.0 L423.3,332.2 L423.5,331.4 L423.6,330.6 L423.8,329.8 L423.9,329.1 L424.1,328.3 L424.2,327.5 L424.4,326.7 L424.5,325.9 L424.6,325.2 L424.8,324.4 L424.9,323.6 L425.1,322.8 L425.2,322.0 L425.3,321.3 L425.5,320.5 L425.6,319.7 L425.8,318.9 L425.9,318.1 L426.0,317.3 L426.2,316.6 L426.3,315.8 L426.4,315.0 L426.6,314.2 L426.7,313.4 L426.8,312.7 L427.0,311.9 L427.1,311.1 L427.2,310.3 L427.4,309.5 L427.5,308.7 L427.6,308.0 L427.7,307.2 L427.9,306.4 L428.0,305.6 L428.1,304.8 L428.3,304.0 L428.4,303.3 L428.5,302.5 L428.6,301.7 L428.8,300.9 L428.9,300.1 L429.0,299.3 L429.1,298.5 L429.2,297.8 L429.4,297.0 L429.5,296.2 L429.6,295.4 L429.7,294.6 L429.9,293.8 L430.0,293.0 L430.1,292.3 L430.2,291.5 L430.3,290.7 L430.4,289.9 L430.6,289.1 L430.7,288.3 L430.8,287.5 L430.9,286.8 L431.0,286.0 L431.1,285.2 L431.3,284.4 L431.4,283.6 L431.5,282.8 L431.6,282.0 L431.7,281.3 L431.8,280.5 L431.9,279.7 L432.0,278.9 L432.2,278.1 L432.3,277.3 L432.4,276.5 L432.5,275.7 L432.6,275.0 L432.7,274.2 L432.8,273.4 L432.9,272.6 L433.0,271.8 L433.1,271.0 L433.3,270.2 L433.4,269.4 L433.5,268.7 L433.6,267.9 L433.7,267.1 L433.8,266.3 L433.9,265.5 L434.0,264.7 L434.1,263.9 L434.2,263.1 L434.3,262.3 L434.4,261.6 L434.5,260.8 L434.6,260.0 L434.7,259.2 L434.8,258.4 L434.9,257.6 L435.0,256.8 L435.1,256.0 L435.2,255.2 L435.3,254.4 L435.4,253.7 L435.5,252.9 L435.6,252.1 L435.7,251.3 L435.8,250.5 L435.9,249.7 L436.0,248.9 L436.1,248.1 L436.2,247.3 L436.3,246.5 L436.4,245.8 L436.5,245.0 L436.6,244.2 L436.7,243.4 L436.8,242.6 L436.9,241.8 L437.0,241.0 L437.1,240.2 L437.2,239.4 L437.3,238.6 L437.4,237.8 L437.5,237.1 L437.6,236.3 L437.7,235.5 L437.8,234.7 L437.9,233.9 L437.9,233.1 L438.0,232.3 L438.1,231.5 L438.2,230.7 L438.3,229.9 L438.4,229.1 L438.5,228.4 L438.6,227.6 L438.7,226.8 L438.8,226.0 L438.9,225.2 L439.0,224.4 L439.1,223.6 L439.2,222.8 L439.3,222.0 L439.3,221.2 L439.4,220.4 L439.5,219.6 L439.6,218.8 L439.7,218.1 L439.8,217.3 L439.9,216.5 L440.0,215.7 L440.1,214.9 L440.2,214.1 L440.3,213.3 L440.3,212.5 L440.4,211.7 L440.5,210.9 L440.6,210.1 L440.7,209.3 L440.8,208.5 L440.9,207.7 L441.0,207.0 L441.1,206.2 L441.1,205.4 L441.2,204.6 L441.3,203.8 L441.4,203.0 L441.5,202.2 L441.6,201.4 L441.7,200.6 L441.8,199.8 L441.9,199.0 L441.9,198.2 L442.0,197.4 L442.1,196.6 L442.2,195.8 L442.3,195.0 L442.4,194.3 L442.5,193.5 L442.6,192.7 L442.6,191.9 L442.7,191.1 L442.8,190.3 L442.9,189.5 L443.0,188.7 L443.1,187.9 L443.2,187.1 L443.2,186.3 L443.3,185.5 L443.4,184.7 L443.5,183.9 L443.6,183.1 L443.7,182.3 L443.8,181.5 L443.8,180.8 L443.9,180.0 L444.0,179.2 L444.1,178.4 L444.2,177.6 L444.3,176.8 L444.4,176.0 L444.4,175.2 L444.5,174.4 L444.6,173.6 L444.7,172.8 L444.8,172.0 L444.9,171.2 L444.9,170.4 L445.0,169.6 L445.1,168.8 L445.2,168.0 L445.3,167.2 L445.4,166.5 L445.4,165.7 L445.5,164.9 L445.6,164.1 L445.7,163.3 L445.8,162.5 L445.9,161.7 L445.9,160.9 L446.0,160.1 L446.1,159.3 L446.2,158.5 L446.3,157.7 L446.3,156.9 L446.4,156.1 L446.5,155.3 L446.6,154.5 L446.7,153.7 L446.7,152.9 L446.8,152.1 L446.9,151.4 L447.0,150.6 L447.1,149.8 L447.1,149.0 L447.2,148.2 L447.3,147.4 L447.4,146.6 L447.5,145.8 L447.5,145.0 L447.6,144.2 L447.7,143.4 L447.8,142.6 L447.9,141.8 L447.9,141.0 L448.0,140.2 L448.1,139.4 L448.2,138.6 L448.3,137.8 L448.3,137.0 L448.4,136.3 L448.5,135.5 L448.6,134.7 L448.7,133.9 L448.7,133.1 L448.8,132.3 L448.9,131.5 L449.0,130.7 L449.0,129.9 L449.1,129.1 L449.2,128.3 L449.3,127.5 L449.3,126.7 L449.4,125.9 L449.5,125.1 L449.6,124.3 L449.7,123.5 L449.7,122.7 L449.8,121.9 L449.9,121.1 L450.0,120.4 L450.0,119.6 L450.1,118.8 L450.2,118.0 L450.3,117.2 L450.3,116.4 L450.4,115.6 L450.5,114.8 L450.6,114.0 L450.6,113.2 L450.7,112.4 L450.8,111.6 L450.9,110.8 L450.9,110.0 L451.0,109.2 L451.1,108.4 L451.2,107.6 L451.2,106.8 L451.3,106.1 L451.4,105.3 L451.4,104.5 L451.5,103.7 L451.6,102.9 L451.7,102.1 L451.7,101.3 L451.8,100.5 L451.9,99.7 L452.0,98.9 L452.0,98.1 L452.1,97.3 L452.2,96.5 L452.3,95.7 L452.3,94.9 L452.4,94.1 L452.5,93.3 L452.5,92.6 L452.6,91.8 L452.7,91.0 L452.8,90.2 L452.8,89.4 L452.9,88.6 L453.0,87.8 L453.0,87.0 L453.1,86.2 L453.2,85.4 L453.3,84.6 L453.3,83.8 L453.4,83.0 L453.5,82.2 L453.5,81.4 L453.6,80.7 L453.7,79.9 L453.7,79.1 L453.8,78.3 L453.9,77.5 L454.0,76.7 L454.0,75.9 L454.1,75.1 L454.2,74.3 L454.2,73.5 L454.3,72.7 L454.4,71.9 L454.4,71.1 L454.5,70.3 L454.6,69.5 L454.6,68.8 L454.7,68.0 L454.8,67.2 L454.9,66.4 L454.9,65.6 L455.0,64.8 L455.1,64.0 L455.1,63.2 L455.2,62.4 L455.3,61.6 L455.3,60.8 L455.4,60.0 L455.5,59.3 L455.5,58.5 L455.6,57.7 L455.7,56.9 L455.7,56.1 L455.8,55.3 L455.9,54.5 L455.9,53.7 L456.0,52.9 L456.1,52.1 L456.1,51.3 L456.2,50.5 L456.3,49.8 L456.3,49.0 L456.4,48.2 L456.5,47.4 L456.5,46.6 L456.6,45.8 L456.7,45.0 L456.7,44.2 L456.8,43.4 L456.9,42.6 L456.9,41.8 L457.0,41.1 L457.0,40.3 L457.1,39.5 L457.2,38.7 L457.2,37.9 L457.3,37.1 L457.4,36.3 L457.4,35.5 L457.5,34.7 L457.6,33.9 L457.6,33.2 L457.7,32.4 L457.8,31.6 L457.8,30.8 L457.9,30.0 L457.9,29.2 L458.0,28.4 L458.1,27.6 L458.1,26.8 L458.2,26.0 L458.3,25.3 L458.3,24.5 L458.4,23.7 L458.4,22.9 L458.5,22.1 L458.6,21.3 L458.6,20.5 L458.7,19.7 L458.8,18.9 L458.8,18.2 L458.9,17.4 L458.9,16.6 L459.0,15.8 L459.1,15.0 L459.1,14.2 L459.2,13.4 L459.3,12.6 L459.3,11.9 L459.4,11.1 L459.4,10.3 L459.5,9.5 L459.6,8.7 L459.6,7.9 L459.7,7.1 L459.7,6.3 L459.8,5.6 L459.9,4.8 L459.9,4.0 L460.0,3.2" stroke="#1414d2" stroke-width="2.3" stroke-dasharray="7.6 8"/>
<path d="M111.6,60.2 L111.6,60.8 L111.7,61.3 L111.8,61.8 L111.9,62.4 L112.0,62.9 L112.1,63.4 L112.2,63.9 L112.3,64.5 L112.4,65.0 L112.5,65.5 L112.6,66.0 L112.7,66.6 L112.8,67.1 L112.9,67.6 L113.0,68.1 L113.1,68.7 L113.1,69.2 L113.2,69.7 L113.3,70.2 L113.4,70.8 L113.5,71.3 L113.6,71.8 L113.7,72.3 L113.8,72.9 L113.9,73.4 L114.0,73.9 L114.1,74.4 L114.2,75.0 L114.3,75.5 L114.4,76.0 L114.4,76.5 L114.5,77.1 L114.6,77.6 L114.7,78.1 L114.8,78.6 L114.9,79.1 L115.0,79.7 L115.1,80.2 L115.2,80.7 L115.3,81.2 L115.4,81.8 L115.5,82.3 L115.5,82.8 L115.6,83.3 L115.7,83.8 L115.8,84.4 L115.9,84.9 L116.0,85.4 L116.1,85.9 L116.2,86.5 L116.3,87.0 L116.4,87.5 L116.5,88.0 L116.5,88.5 L116.6,89.1 L116.7,89.6 L116.8,90.1 L116.9,90.6 L117.0,91.1 L117.1,91.7 L117.2,92.2 L117.3,92.7 L117.4,93.2 L117.4,93.7 L117.5,94.3 L117.6,94.8 L117.7,95.3 L117.8,95.8 L117.9,96.3 L118.0,96.9 L118.1,97.4 L118.2,97.9 L118.3,98.4 L118.3,98.9 L118.4,99.5 L118.5,100.0 L118.6,100.5 L118.7,101.0 L118.8,101.5 L118.9,102.1 L119.0,102.6 L119.1,103.1 L119.2,103.6 L119.2,104.1 L119.3,104.7 L119.4,105.2 L119.5,105.7 L119.6,106.2 L119.7,106.7 L119.8,107.2 L119.9,107.8 L120.0,108.3 L120.0,108.8 L120.1,109.3 L120.2,109.8 L120.3,110.3 L120.4,110.9 L120.5,111.4 L120.6,111.9 L120.7,112.4 L120.8,112.9 L120.9,113.5 L120.9,114.0 L121.0,114.5 L121.1,115.0 L121.2,115.5 L121.3,116.0 L121.4,116.6 L121.5,117.1 L121.6,117.6 L121.7,118.1 L121.7,118.6 L121.8,119.1 L121.9,119.6 L122.0,120.2 L122.1,120.7 L122.2,121.2 L122.3,121.7 L122.4,122.2 L122.5,122.7 L122.5,123.3 L122.6,123.8 L122.7,124.3 L122.8,124.8 L122.9,125.3 L123.0,125.8 L123.1,126.3 L123.2,126.9 L123.3,127.4 L123.4,127.9 L123.4,128.4 L123.5,128.9 L123.6,129.4 L123.7,130.0 L123.8,130.5 L123.9,131.0 L124.0,131.5 L124.1,132.0 L124.2,132.5 L124.2,133.0 L124.3,133.5 L124.4,134.1 L124.5,134.6 L124.6,135.1 L124.7,135.6 L124.8,136.1 L124.9,136.6 L125.0,137.1 L125.1,137.7 L125.1,138.2 L125.2,138.7 L125.3,139.2 L125.4,139.7 L125.5,140.2 L125.6,140.7 L125.7,141.3 L125.8,141.8 L125.9,142.3 L126.0,142.8 L126.1,143.3 L126.1,143.8 L126.2,144.3 L126.3,144.8 L126.4,145.4 L126.5,145.9 L126.6,146.4 L126.7,146.9 L126.8,147.4 L126.9,147.9 L127.0,148.4 L127.0,148.9 L127.1,149.4 L127.2,150.0 L127.3,150.5 L127.4,151.0 L127.5,151.5 L127.6,152.0 L127.7,152.5 L127.8,153.0 L127.9,153.5 L128.0,154.1 L128.1,154.6 L128.1,155.1 L128.2,155.6 L128.3,156.1 L128.4,156.6 L128.5,157.1 L128.6,157.6 L128.7,158.1 L128.8,158.7 L128.9,159.2 L129.0,159.7 L129.1,160.2 L129.2,160.7 L129.3,161.2 L129.3,161.7 L129.4,162.2 L129.5,162.7 L129.6,163.3 L129.7,163.8 L129.8,164.3 L129.9,164.8 L130.0,165.3 L130.1,165.8 L130.2,166.3 L130.3,166.8 L130.4,167.3 L130.5,167.8 L130.6,168.4 L130.7,168.9 L130.8,169.4 L130.8,169.9 L130.9,170.4 L131.0,170.9 L131.1,171.4 L131.2,171.9 L131.3,172.4 L131.4,172.9 L131.5,173.5 L131.6,174.0 L131.7,174.5 L131.8,175.0 L131.9,175.5 L132.0,176.0 L132.1,176.5 L132.2,177.0 L132.3,177.5 L132.4,178.0 L132.5,178.5 L132.6,179.1 L132.7,179.6 L132.8,180.1 L132.8,180.6 L132.9,181.1 L133.0,181.6 L133.1,182.1 L133.2,182.6 L133.3,183.1 L133.4,183.6 L133.5,184.1 L133.6,184.7 L133.7,185.2 L133.8,185.7 L133.9,186.2 L134.0,186.7 L134.1,187.2 L134.2,187.7 L134.3,188.2 L134.4,188.7 L134.5,189.2 L134.6,189.7 L134.7,190.3 L134.8,190.8 L134.9,191.3 L135.0,191.8 L135.1,192.3 L135.2,192.8 L135.3,193.3 L135.4,193.8 L135.5,194.3 L135.6,194.8 L135.7,195.3 L135.8,195.8 L135.9,196.4 L136.0,196.9 L136.1,197.4 L136.2,197.9 L136.3,198.4 L136.4,198.9 L136.5,199.4 L136.6,199.9 L136.7,200.4 L136.8,200.9 L136.9,201.4 L137.0,201.9 L137.1,202.4 L137.2,203.0 L137.3,203.5 L137.4,204.0 L137.5,204.5 L137.6,205.0 L137.7,205.5 L137.8,206.0 L137.9,206.5 L138.0,207.0 L138.2,207.5 L138.3,208.0 L138.4,208.5 L138.5,209.1 L138.6,209.6 L138.7,210.1 L138.8,210.6 L138.9,211.1 L139.0,211.6 L139.1,212.1 L139.2,212.6 L139.3,213.1 L139.4,213.6 L139.5,214.1 L139.6,214.6 L139.7,215.1 L139.8,215.7 L139.9,216.2 L140.1,216.7 L140.2,217.2 L140.3,217.7 L140.4,218.2 L140.5,218.7 L140.6,219.2 L140.7,219.7 L140.8,220.2 L140.9,220.7 L141.0,221.2 L141.1,221.7 L141.2,222.2 L141.4,222.8 L141.5,223.3 L141.6,223.8 L141.7,224.3 L141.8,224.8 L141.9,225.3 L142.0,225.8 L142.1,226.3 L142.2,226.8 L142.3,227.3 L142.5,227.8 L142.6,228.3 L142.7,228.8 L142.8,229.4 L142.9,229.9 L143.0,230.4 L143.1,230.9 L143.2,231.4 L143.4,231.9 L143.5,232.4 L143.6,232.9 L143.7,233.4 L143.8,233.9 L143.9,234.4 L144.0,234.9 L144.1,235.4 L144.3,235.9 L144.4,236.5 L144.5,237.0 L144.6,237.5 L144.7,238.0 L144.8,238.5 L145.0,239.0 L145.1,239.5 L145.2,240.0 L145.3,240.5 L145.4,241.0 L145.5,241.5 L145.7,242.0 L145.8,242.5 L145.9,243.1 L146.0,243.6 L146.1,244.1 L146.2,244.6 L146.4,245.1 L146.5,245.6 L146.6,246.1 L146.7,246.6 L146.8,247.1 L147.0,247.6 L147.1,248.1 L147.2,248.6 L147.3,249.1 L147.4,249.7 L147.6,250.2 L147.7,250.7 L147.8,251.2 L147.9,251.7 L148.1,252.2 L148.2,252.7 L148.3,253.2 L148.4,253.7 L148.5,254.2 L148.7,254.7 L148.8,255.2 L148.9,255.7 L149.0,256.3 L149.2,256.8 L149.3,257.3 L149.4,257.8 L149.5,258.3 L149.7,258.8 L149.8,259.3 L149.9,259.8 L150.0,260.3 L150.2,260.8 L150.3,261.3 L150.4,261.8 L150.5,262.4 L150.7,262.9 L150.8,263.4 L150.9,263.9 L151.1,264.4 L151.2,264.9 L151.3,265.4 L151.4,265.9 L151.6,266.4 L151.7,266.9 L151.8,267.4 L152.0,267.9 L152.1,268.4 L152.2,269.0 L152.4,269.5 L152.5,270.0 L152.6,270.5 L152.7,271.0 L152.9,271.5 L153.0,272.0 L153.1,272.5 L153.3,273.0 L153.4,273.5 L153.5,274.0 L153.7,274.6 L153.8,275.1 L153.9,275.6 L154.1,276.1 L154.2,276.6 L154.4,277.1 L154.5,277.6 L154.6,278.1 L154.8,278.6 L154.9,279.1 L155.0,279.6 L155.2,280.2 L155.3,280.7 L155.4,281.2 L155.6,281.7 L155.7,282.2 L155.9,282.7 L156.0,283.2 L156.1,283.7 L156.3,284.2 L156.4,284.7 L156.6,285.2 L156.7,285.8 L156.8,286.3 L157.0,286.8 L157.1,287.3 L157.3,287.8 L157.4,288.3 L157.5,288.8 L157.7,289.3 L157.8,289.8 L158.0,290.3 L158.1,290.9 L158.3,291.4 L158.4,291.9 L158.6,292.4 L158.7,292.9 L158.8,293.4 L159.0,293.9 L159.1,294.4 L159.3,294.9 L159.4,295.4 L159.6,296.0 L159.7,296.5 L159.9,297.0 L160.0,297.5 L160.2,298.0 L160.3,298.5 L160.5,299.0 L160.6,299.5 L160.8,300.0 L160.9,300.6 L161.1,301.1 L161.2,301.6 L161.4,302.1 L161.5,302.6 L161.7,303.1 L161.8,303.6 L162.0,304.1 L162.1,304.6 L162.3,305.1 L162.4,305.7 L162.6,306.2 L162.7,306.7 L162.9,307.2 L163.1,307.7 L163.2,308.2 L163.4,308.7 L163.5,309.2 L163.7,309.7 L163.8,310.2 L164.0,310.8 L164.2,311.3 L164.3,311.8 L164.5,312.3 L164.6,312.8 L164.8,313.3 L165.0,313.8 L165.1,314.3 L165.3,314.8 L165.4,315.3 L165.6,315.8 L165.8,316.3 L165.9,316.9 L166.1,317.4 L166.3,317.9 L166.4,318.4 L166.6,318.9 L166.8,319.4 L166.9,319.9 L167.1,320.4 L167.3,320.9 L167.4,321.4 L167.6,321.9 L167.8,322.4 L167.9,322.9 L168.1,323.4 L168.3,323.9 L168.5,324.4 L168.6,324.9 L168.8,325.4 L169.0,326.0 L169.2,326.5 L169.3,327.0 L169.5,327.5 L169.7,328.0 L169.9,328.5 L170.0,329.0 L170.2,329.5 L170.4,330.0 L170.6,330.5 L170.8,331.0 L170.9,331.5 L171.1,332.0 L171.3,332.5 L171.5,333.0 L171.7,333.5 L171.9,334.0 L172.0,334.5 L172.2,335.0 L172.4,335.5 L172.6,336.0 L172.8,336.5 L173.0,336.9 L173.2,337.4 L173.4,337.9 L173.6,338.4 L173.7,338.9 L173.9,339.4 L174.1,339.9 L174.3,340.4 L174.5,340.9 L174.7,341.4 L174.9,341.9 L175.1,342.4 L175.3,342.9 L175.5,343.4 L175.7,343.9 L175.9,344.3 L176.1,344.8 L176.3,345.3 L176.5,345.8 L176.7,346.3 L176.9,346.8 L177.1,347.3 L177.3,347.8 L177.5,348.2 L177.7,348.7 L178.0,349.2 L178.2,349.7 L178.4,350.2 L178.6,350.7 L178.8,351.1 L179.0,351.6 L179.2,352.1 L179.4,352.6 L179.6,353.1 L179.9,353.5 L180.1,354.0 L180.3,354.5 L180.5,355.0 L180.7,355.5 L181.0,355.9 L181.2,356.4 L181.4,356.9 L181.6,357.4 L181.8,357.8 L182.1,358.3 L182.3,358.8 L182.5,359.3 L182.7,359.7 L183.0,360.2 L183.2,360.7 L183.4,361.1 L183.7,361.6 L183.9,362.1 L184.1,362.5 L184.4,363.0 L184.6,363.5 L184.8,363.9 L185.1,364.4 L185.3,364.9 L185.6,365.3 L185.8,365.8 L186.0,366.3 L186.3,366.7 L186.5,367.2 L186.8,367.7 L187.0,368.1 L187.3,368.6 L187.5,369.0 L187.7,369.5 L188.0,369.9 L188.2,370.4 L188.5,370.9 L188.7,371.3 L189.0,371.8 L189.3,372.2 L189.5,372.7 L189.8,373.1 L190.0,373.6 L190.3,374.0 L190.5,374.5 L190.8,374.9 L191.1,375.4 L191.3,375.8 L191.6,376.3 L191.9,376.7 L192.1,377.1 L192.4,377.6 L192.7,378.0 L192.9,378.5 L193.2,378.9 L193.5,379.3 L193.7,379.8 L194.0,380.2 L194.3,380.7 L194.6,381.1 L194.8,381.5 L195.1,382.0 L195.4,382.4 L195.7,382.8 L196.0,383.3 L196.2,383.7 L196.5,384.1 L196.8,384.6 L197.1,385.0 L197.4,385.4 L197.7,385.8 L198.0,386.3 L198.3,386.7 L198.5,387.1 L198.8,387.5 L199.1,387.9 L199.4,388.4 L199.7,388.8 L200.0,389.2 L200.3,389.6 L200.6,390.0 L200.9,390.5 L201.2,390.9 L201.5,391.3 L201.8,391.7 L202.2,392.1 L202.5,392.5 L202.8,392.9 L203.1,393.3 L203.4,393.7 L203.7,394.1 L204.0,394.6 L204.3,395.0 L204.7,395.4 L205.0,395.8 L205.3,396.2 L205.6,396.6 L205.9,397.0 L206.3,397.4 L206.6,397.8 L206.9,398.1 L207.2,398.5 L207.6,398.9 L207.9,399.3 L208.2,399.7 L208.6,400.1 L208.9,400.5 L209.2,400.9 L209.6,401.3 L209.9,401.6 L210.3,402.0 L210.6,402.4 L210.9,402.8 L211.3,403.2 L211.6,403.5 L212.0,403.9 L212.3,404.3 L212.7,404.6 L213.0,405.0 L213.4,405.4 L213.7,405.7 L214.1,406.1 L214.5,406.5 L214.8,406.8 L215.2,407.2 L215.5,407.6 L215.9,407.9 L216.3,408.3 L216.6,408.6 L217.0,409.0 L217.4,409.3 L217.7,409.7 L218.1,410.0 L218.5,410.4 L218.9,410.7 L219.2,411.1 L219.6,411.4 L220.0,411.7 L220.4,412.1 L220.7,412.4 L221.1,412.7 L221.5,413.1 L221.9,413.4 L222.3,413.7 L222.7,414.0 L223.1,414.4 L223.5,414.7 L223.9,415.0 L224.3,415.3 L224.7,415.6 L225.1,416.0 L225.5,416.3 L225.9,416.6 L226.3,416.9 L226.7,417.2 L227.1,417.5 L227.5,417.8 L227.9,418.1 L228.3,418.4 L228.7,418.7 L229.1,419.0 L229.6,419.3 L230.0,419.6 L230.4,419.8 L230.8,420.1 L231.2,420.4 L231.7,420.7 L232.1,421.0 L232.5,421.2 L232.9,421.5 L233.4,421.8 L233.8,422.1 L234.2,422.3 L234.7,422.6 L235.1,422.8 L235.6,423.1 L236.0,423.4 L236.4,423.6 L236.9,423.9 L237.3,424.1 L237.8,424.4 L238.2,424.6 L238.7,424.8 L239.1,425.1 L239.6,425.3 L240.0,425.6 L240.5,425.8 L241.0,426.0 L241.4,426.2 L241.9,426.5 L242.4,426.7 L242.8,426.9 L243.3,427.1 L243.8,427.3 L244.2,427.6 L244.7,427.8 L245.2,428.0 L245.7,428.2 L246.1,428.4 L246.6,428.6 L247.1,428.8 L247.6,429.0 L248.1,429.1 L248.6,429.3 L249.1,429.5 L249.6,429.7 L250.0,429.9 L250.5,430.0 L251.0,430.2 L251.5,430.4 L252.0,430.6 L252.5,430.7 L253.0,430.9 L253.6,431.0 L254.1,431.2 L254.6,431.3 L255.1,431.5 L255.6,431.6 L256.1,431.8 L256.6,431.9 L257.2,432.1 L257.7,432.2 L258.2,432.3 L258.7,432.4 L259.3,432.6 L259.8,432.7 L260.3,432.8 L260.8,432.9 L261.4,433.0 L261.9,433.1 L262.5,433.3 L263.0,433.4 L263.5,433.5 L264.1,433.6 L264.6,433.6 L265.2,433.7 L265.7,433.8 L266.3,433.9 L266.8,434.0 L267.4,434.1 L268.0,434.1 L268.5,434.2 L269.1,434.3 L269.6,434.3 L270.2,434.4 L270.8,434.4 L271.4,434.5 L271.9,434.5 L272.5,434.6 L272.40,434.00 L288.40,434.50 L300.00,434.60 L440.00,434.60 L455.00,434.40 L455.8,435.8 L456.4,435.7 L457.0,435.6 L457.6,435.4 L458.2,435.3 L458.8,435.1 L459.4,435.0 L460.0,434.8 L460.6,434.6 L461.2,434.4 L461.8,434.2 L462.4,434.0 L462.9,433.8 L463.5,433.6 L464.1,433.4 L464.6,433.1 L465.2,432.9 L465.7,432.7 L466.3,432.4 L466.8,432.1 L467.3,431.9 L467.9,431.6 L468.4,431.3 L468.9,431.0 L469.4,430.8 L470.0,430.5 L470.5,430.2 L471.0,429.8 L471.5,429.5 L472.0,429.2 L472.5,428.9 L472.9,428.5 L473.4,428.2 L473.9,427.9 L474.4,427.5 L474.9,427.2 L475.3,426.8 L475.8,426.4 L476.3,426.1 L476.7,425.7 L477.2,425.3 L477.6,424.9 L478.1,424.5 L478.5,424.1 L478.9,423.7 L479.4,423.3 L479.8,422.9 L480.2,422.5 L480.7,422.1 L481.1,421.7 L481.5,421.2 L481.9,420.8 L482.3,420.4 L482.7,419.9 L483.1,419.5 L483.5,419.0 L483.9,418.6 L484.3,418.1 L484.7,417.7 L485.1,417.2 L485.5,416.8 L485.9,416.3 L486.2,415.8 L486.6,415.3 L487.0,414.9 L487.3,414.4 L487.7,413.9 L488.1,413.4 L488.4,412.9 L488.8,412.4 L489.1,411.9 L489.5,411.4 L489.8,410.9 L490.2,410.4 L490.5,409.9 L490.8,409.4 L491.2,408.9 L491.5,408.4 L491.8,407.9 L492.2,407.4 L492.5,406.9 L492.8,406.4 L493.1,405.8 L493.4,405.3 L493.8,404.8 L494.1,404.3 L494.4,403.8 L494.7,403.2 L495.0,402.7 L495.3,402.2 L495.6,401.7 L495.9,401.1 L496.2,400.6 L496.5,400.1 L496.7,399.5 L497.0,399.0 L497.3,398.5 L497.6,397.9 L497.9,397.4 L498.1,396.9 L498.4,396.3 L498.7,395.8 L499.0,395.2 L499.2,394.7 L499.5,394.2 L499.8,393.6 L500.0,393.1 L500.3,392.5 L500.5,392.0 L500.8,391.4 L501.0,390.9 L501.3,390.3 L501.5,389.8 L501.8,389.2 L502.0,388.7 L502.3,388.1 L502.5,387.6 L502.7,387.0 L503.0,386.5 L503.2,385.9 L503.4,385.3 L503.7,384.8 L503.9,384.2 L504.1,383.7 L504.4,383.1 L504.6,382.5 L504.8,382.0 L505.0,381.4 L505.2,380.9 L505.4,380.3 L505.6,379.7 L505.9,379.2 L506.1,378.6 L506.3,378.0 L506.5,377.5 L506.7,376.9 L506.9,376.3 L507.1,375.7 L507.3,375.2 L507.5,374.6 L507.7,374.0 L507.9,373.4 L508.0,372.9 L508.2,372.3 L508.4,371.7 L508.6,371.1 L508.8,370.6 L509.0,370.0 L509.2,369.4 L509.3,368.8 L509.5,368.2 L509.7,367.7 L509.9,367.1 L510.0,366.5 L510.2,365.9 L510.4,365.3 L510.5,364.7 L510.7,364.2 L510.9,363.6 L511.0,363.0 L511.2,362.4 L511.4,361.8 L511.5,361.2 L511.7,360.6 L511.8,360.0 L512.0,359.5 L512.1,358.9 L512.3,358.3 L512.4,357.7 L512.6,357.1 L512.7,356.5 L512.9,355.9 L513.0,355.3 L513.2,354.7 L513.3,354.1 L513.5,353.5 L513.6,352.9 L513.7,352.3 L513.9,351.7 L514.0,351.1 L514.2,350.5 L514.3,349.9 L514.4,349.3 L514.6,348.8 L514.7,348.2 L514.8,347.6 L515.0,347.0 L515.1,346.4 L515.2,345.8 L515.3,345.1 L515.5,344.5 L515.6,343.9 L515.7,343.3 L515.8,342.7 L516.0,342.1 L516.1,341.5 L516.2,340.9 L516.3,340.3 L516.4,339.7 L516.5,339.1 L516.7,338.5 L516.8,337.9 L516.9,337.3 L517.0,336.7 L517.1,336.1 L517.2,335.5 L517.3,334.9 L517.4,334.3 L517.6,333.7 L517.7,333.1 L517.8,332.4 L517.9,331.8 L518.0,331.2 L518.1,330.6 L518.2,330.0 L518.3,329.4 L518.4,328.8 L518.5,328.2 L518.6,327.6 L518.7,327.0 L518.8,326.4 L518.9,325.7 L519.0,325.1 L519.1,324.5 L519.2,323.9 L519.3,323.3 L519.4,322.7 L519.5,322.1 L519.6,321.5 L519.7,320.9 L519.8,320.2 L519.9,319.6 L520.0,319.0 L520.1,318.4 L520.2,317.8 L520.3,317.2 L520.4,316.6 L520.5,316.0 L520.5,315.4 L520.6,314.7 L520.7,314.1 L520.8,313.5 L520.9,312.9 L521.0,312.3 L521.1,311.7 L521.2,311.1 L521.3,310.5 L521.4,309.8 L521.5,309.2 L521.6,308.6 L521.6,308.0 L521.7,307.4 L521.8,306.8 L521.9,306.2 L522.0,305.6 L522.1,304.9 L522.2,304.3 L522.3,303.7 L522.4,303.1 L522.4,302.5 L522.5,301.9 L522.6,301.3 L522.7,300.7 L522.8,300.1 L522.9,299.4 L523.0,298.8 L523.1,298.2 L523.2,297.6 L523.2,297.0 L523.3,296.4 L523.4,295.8 L523.5,295.2 L523.6,294.6 L523.7,294.0 L523.8,293.3 L523.9,292.7 L523.9,292.1 L524.0,291.5 L524.1,290.9 L524.2,290.3 L524.3,289.7 L524.4,289.1 L524.5,288.5 L524.6,287.9 L524.6,287.2 L524.7,286.6 L524.8,286.0 L524.9,285.4 L525.0,284.8 L525.1,284.2 L525.2,283.6 L525.2,283.0 L525.3,282.4 L525.4,281.8 L525.5,281.2 L525.6,280.5 L525.7,279.9 L525.8,279.3 L525.8,278.7 L525.9,278.1 L526.0,277.5 L526.1,276.9 L526.2,276.3 L526.3,275.7 L526.4,275.1 L526.4,274.5 L526.5,273.8 L526.6,273.2 L526.7,272.6 L526.8,272.0 L526.9,271.4 L526.9,270.8 L527.0,270.2 L527.1,269.6 L527.2,269.0 L527.3,268.4 L527.4,267.8 L527.4,267.2 L527.5,266.6 L527.6,265.9 L527.7,265.3 L527.8,264.7 L527.9,264.1 L527.9,263.5 L528.0,262.9 L528.1,262.3 L528.2,261.7 L528.3,261.1 L528.4,260.5 L528.4,259.9 L528.5,259.3 L528.6,258.7 L528.7,258.1 L528.8,257.4 L528.8,256.8 L528.9,256.2 L529.0,255.6 L529.1,255.0 L529.2,254.4 L529.2,253.8 L529.3,253.2 L529.4,252.6 L529.5,252.0 L529.6,251.4 L529.7,250.8 L529.7,250.2 L529.8,249.6 L529.9,249.0 L530.0,248.4 L530.1,247.7 L530.1,247.1 L530.2,246.5 L530.3,245.9 L530.4,245.3 L530.5,244.7 L530.5,244.1 L530.6,243.5 L530.7,242.9 L530.8,242.3 L530.9,241.7 L530.9,241.1 L531.0,240.5 L531.1,239.9 L531.2,239.3 L531.2,238.7 L531.3,238.1 L531.4,237.4 L531.5,236.8 L531.6,236.2 L531.6,235.6 L531.7,235.0 L531.8,234.4 L531.9,233.8 L531.9,233.2 L532.0,232.6 L532.1,232.0 L532.2,231.4 L532.3,230.8 L532.3,230.2 L532.4,229.6 L532.5,229.0 L532.6,228.4 L532.6,227.8 L532.7,227.2 L532.8,226.6 L532.9,225.9 L532.9,225.3 L533.0,224.7 L533.1,224.1 L533.2,223.5 L533.3,222.9 L533.3,222.3 L533.4,221.7 L533.5,221.1 L533.6,220.5 L533.6,219.9 L533.7,219.3 L533.8,218.7 L533.9,218.1 L533.9,217.5 L534.0,216.9 L534.1,216.3 L534.2,215.7 L534.2,215.1 L534.3,214.5 L534.4,213.9 L534.5,213.3 L534.5,212.6 L534.6,212.0 L534.7,211.4 L534.8,210.8 L534.8,210.2 L534.9,209.6 L535.0,209.0 L535.0,208.4 L535.1,207.8 L535.2,207.2 L535.3,206.6 L535.3,206.0 L535.4,205.4 L535.5,204.8 L535.6,204.2 L535.6,203.6 L535.7,203.0 L535.8,202.4 L535.9,201.8 L535.9,201.2 L536.0,200.6 L536.1,200.0 L536.1,199.4 L536.2,198.8 L536.3,198.1 L536.4,197.5 L536.4,196.9 L536.5,196.3 L536.6,195.7 L536.6,195.1 L536.7,194.5 L536.8,193.9 L536.9,193.3 L536.9,192.7 L537.0,192.1 L537.1,191.5 L537.1,190.9 L537.2,190.3 L537.3,189.7 L537.4,189.1 L537.4,188.5 L537.5,187.9 L537.6,187.3 L537.6,186.7 L537.7,186.1 L537.8,185.5 L537.8,184.9 L537.9,184.3 L538.0,183.7 L538.0,183.1 L538.1,182.4 L538.2,181.8 L538.3,181.2 L538.3,180.6 L538.4,180.0 L538.5,179.4 L538.5,178.8 L538.6,178.2 L538.7,177.6 L538.7,177.0 L538.8,176.4 L538.9,175.8 L538.9,175.2 L539.0,174.6 L539.1,174.0 L539.1,173.4 L539.2,172.8 L539.3,172.2 L539.3,171.6 L539.4,171.0 L539.5,170.4 L539.6,169.8 L539.6,169.2 L539.7,168.6 L539.8,168.0 L539.8,167.4 L539.9,166.7 L540.0,166.1 L540.0,165.5 L540.1,164.9 L540.1,164.3 L540.2,163.7 L540.3,163.1 L540.3,162.5 L540.4,161.9 L540.5,161.3 L540.5,160.7 L540.6,160.1 L540.7,159.5 L540.7,158.9 L540.8,158.3 L540.9,157.7 L540.9,157.1 L541.0,156.5 L541.1,155.9 L541.1,155.3 L541.2,154.7 L541.3,154.1 L541.3,153.5 L541.4,152.9 L541.5,152.3 L541.5,151.6 L541.6,151.0 L541.6,150.4 L541.7,149.8 L541.8,149.2 L541.8,148.6 L541.9,148.0 L542.0,147.4 L542.0,146.8 L542.1,146.2 L542.2,145.6 L542.2,145.0 L542.3,144.4 L542.3,143.8 L542.4,143.2 L542.5,142.6 L542.5,142.0 L542.6,141.4 L542.7,140.8 L542.7,140.2 L542.8,139.6 L542.8,139.0 L542.9,138.4 L543.0,137.7 L543.0,137.1 L543.1,136.5 L543.1,135.9 L543.2,135.3 L543.3,134.7 L543.3,134.1 L543.4,133.5 L543.5,132.9 L543.5,132.3 L543.6,131.7 L543.6,131.1 L543.7,130.5 L543.8,129.9 L543.8,129.3 L543.9,128.7 L543.9,128.1 L544.0,127.5 L544.1,126.9 L544.1,126.3 L544.2,125.6 L544.2,125.0 L544.3,124.4 L544.4,123.8 L544.4,123.2 L544.5,122.6 L544.5,122.0 L544.6,121.4 L544.7,120.8 L544.7,120.2 L544.8,119.6 L544.8,119.0 L544.9,118.4 L544.9,117.8 L545.0,117.2 L545.1,116.6 L545.1,116.0 L545.2,115.4 L545.2,114.8 L545.3,114.1 L545.3,113.5 L545.4,112.9 L545.5,112.3 L545.5,111.7 L545.6,111.1 L545.6,110.5 L545.7,109.9 L545.7,109.3 L545.8,108.7 L545.9,108.1 L545.9,107.5 L546.0,106.9 L546.0,106.3 L546.1,105.7 L546.1,105.1 L546.2,104.4 L546.3,103.8 L546.3,103.2 L546.4,102.6 L546.4,102.0 L546.5,101.4 L546.5,100.8 L546.6,100.2 L546.6,99.6 L546.7,99.0 L546.8,98.4 L546.8,97.8 L546.9,97.2 L546.9,96.6 L547.0,96.0 L547.0,95.3 L547.1,94.7 L547.1,94.1 L547.2,93.5 L547.2,92.9 L547.3,92.3 L547.4,91.7 L547.4,91.1 L547.5,90.5 L547.5,89.9 L547.6,89.3 L547.6,88.7 L547.7,88.1 L547.7,87.4 L547.8,86.8 L547.8,86.2 L547.9,85.6 L547.9,85.0 L548.0,84.4 L548.0,83.8 L548.1,83.2 L548.2,82.6 L548.2,82.0 L548.3,81.4 L548.3,80.8 L548.4,80.1 L548.4,79.5 L548.5,78.9 L548.5,78.3 L548.6,77.7 L548.6,77.1 L548.7,76.5 L548.7,75.9 L548.8,75.3 L548.8,74.7 L548.9,74.1 L548.9,73.4 L549.0,72.8 L549.0,72.2 L549.1,71.6 L549.1,71.0 L549.2,70.4 L549.2,69.8 L549.3,69.2 L549.3,68.6 L549.4,68.0 L549.4,67.4 L549.5,66.7 L549.5,66.1 L549.6,65.5 L549.6,64.9 L549.7,64.3 L549.7,63.7 L549.8,63.1 L549.8,62.5 L549.9,61.9 L549.9,61.3 L550.0,60.6 L550.0,60.0 L550.1,59.4 L550.1,58.8 L550.2,58.2 L550.2,57.6 L550.3,57.0 L550.3,56.4 L550.4,55.8 L550.4,55.1 L550.4,54.5 L550.5,53.9 L550.5,53.3 L550.6,52.7 L550.6,52.1 L550.7,51.5 L550.7,50.9 L550.8,50.2 L550.8,49.6 L550.9,49.0 L550.9,48.4 L551.0,47.8 L551.0,47.2 L551.1,46.6 L551.1,46.0 L551.1,45.4 L551.2,44.7 L551.2,44.1 L551.3,43.5 L551.3,42.9 L551.4,42.3 L551.4,41.7 L551.5,41.1 L551.5,40.4 L551.6,39.8 L551.6,39.2 L551.6,38.6 L551.7,38.0 L551.7,37.4 L551.8,36.8 L551.8,36.2 L551.9,35.5 L551.9,34.9 L552.0,34.3 L552.0,33.7 L552.0,33.1 L552.1,32.5 L552.1,31.9 L552.2,31.2 L552.2,30.6 L552.3,30.0 L552.3,29.4 L552.4,28.8 L552.4,28.2 L552.4,27.6 L552.5,26.9 L552.5,26.3 L552.6,25.7 L552.6,25.1 L552.6,24.5 L552.7,23.9 L552.7,23.2 L552.8,22.6 L552.8,22.0 L552.9,21.4 L552.9,20.8 L552.9,20.2 L553.0,19.6 L553.0,18.9 L553.1,18.3 L553.1,17.7 L553.2,17.1 L553.2,16.5 L553.2,15.9 L553.3,15.2 L553.3,14.6 L553.4,14.0 L553.4,13.4 L553.4,12.8 L553.5,12.2 L553.5,11.5 L553.6,10.9 L553.6,10.3 L553.6,9.7 L553.7,9.1 L553.7,8.4 L553.8,7.8 L553.8,7.2 L553.8,6.6 L553.9,6.0 L553.9,5.4 L554.0,4.7" stroke="#dc1e26" stroke-width="2.25" stroke-dasharray="0.3 5.6" stroke-linecap="round"/>
<path d="M153.4,4.8 L153.5,5.4 L153.6,6.0 L153.7,6.7 L153.8,7.3 L153.9,7.9 L154.0,8.5 L154.2,9.1 L154.3,9.7 L154.4,10.4 L154.5,11.0 L154.6,11.6 L154.7,12.2 L154.9,12.8 L155.0,13.4 L155.1,14.1 L155.2,14.7 L155.3,15.3 L155.4,15.9 L155.5,16.5 L155.7,17.1 L155.8,17.7 L155.9,18.4 L156.0,19.0 L156.1,19.6 L156.2,20.2 L156.4,20.8 L156.5,21.4 L156.6,22.0 L156.7,22.7 L156.8,23.3 L156.9,23.9 L157.0,24.5 L157.2,25.1 L157.3,25.7 L157.4,26.3 L157.5,27.0 L157.6,27.6 L157.7,28.2 L157.9,28.8 L158.0,29.4 L158.1,30.0 L158.2,30.6 L158.3,31.2 L158.4,31.9 L158.6,32.5 L158.7,33.1 L158.8,33.7 L158.9,34.3 L159.0,34.9 L159.1,35.5 L159.3,36.1 L159.4,36.8 L159.5,37.4 L159.6,38.0 L159.7,38.6 L159.8,39.2 L160.0,39.8 L160.1,40.4 L160.2,41.0 L160.3,41.6 L160.4,42.3 L160.6,42.9 L160.7,43.5 L160.8,44.1 L160.9,44.7 L161.0,45.3 L161.1,45.9 L161.3,46.5 L161.4,47.1 L161.5,47.7 L161.6,48.4 L161.7,49.0 L161.9,49.6 L162.0,50.2 L162.1,50.8 L162.2,51.4 L162.3,52.0 L162.5,52.6 L162.6,53.2 L162.7,53.8 L162.8,54.5 L162.9,55.1 L163.0,55.7 L163.2,56.3 L163.3,56.9 L163.4,57.5 L163.5,58.1 L163.6,58.7 L163.8,59.3 L163.9,59.9 L164.0,60.5 L164.1,61.1 L164.2,61.8 L164.4,62.4 L164.5,63.0 L164.6,63.6 L164.7,64.2 L164.9,64.8 L165.0,65.4 L165.1,66.0 L165.2,66.6 L165.3,67.2 L165.5,67.8 L165.6,68.4 L165.7,69.0 L165.8,69.7 L165.9,70.3 L166.1,70.9 L166.2,71.5 L166.3,72.1 L166.4,72.7 L166.6,73.3 L166.7,73.9 L166.8,74.5 L166.9,75.1 L167.0,75.7 L167.2,76.3 L167.3,76.9 L167.4,77.5 L167.5,78.1 L167.7,78.7 L167.8,79.4 L167.9,80.0 L168.0,80.6 L168.2,81.2 L168.3,81.8 L168.4,82.4 L168.5,83.0 L168.7,83.6 L168.8,84.2 L168.9,84.8 L169.0,85.4 L169.1,86.0 L169.3,86.6 L169.4,87.2 L169.5,87.8 L169.6,88.4 L169.8,89.0 L169.9,89.6 L170.0,90.2 L170.2,90.9 L170.3,91.5 L170.4,92.1 L170.5,92.7 L170.7,93.3 L170.8,93.9 L170.9,94.5 L171.0,95.1 L171.2,95.7 L171.3,96.3 L171.4,96.9 L171.5,97.5 L171.7,98.1 L171.8,98.7 L171.9,99.3 L172.1,99.9 L172.2,100.5 L172.3,101.1 L172.4,101.7 L172.6,102.3 L172.7,102.9 L172.8,103.5 L172.9,104.1 L173.1,104.7 L173.2,105.3 L173.3,105.9 L173.5,106.5 L173.6,107.1 L173.7,107.7 L173.9,108.4 L174.0,109.0 L174.1,109.6 L174.2,110.2 L174.4,110.8 L174.5,111.4 L174.6,112.0 L174.8,112.6 L174.9,113.2 L175.0,113.8 L175.2,114.4 L175.3,115.0 L175.4,115.6 L175.6,116.2 L175.7,116.8 L175.8,117.4 L175.9,118.0 L176.1,118.6 L176.2,119.2 L176.3,119.8 L176.5,120.4 L176.6,121.0 L176.7,121.6 L176.9,122.2 L177.0,122.8 L177.1,123.4 L177.3,124.0 L177.4,124.6 L177.5,125.2 L177.7,125.8 L177.8,126.4 L177.9,127.0 L178.1,127.6 L178.2,128.2 L178.4,128.8 L178.5,129.4 L178.6,130.0 L178.8,130.6 L178.9,131.2 L179.0,131.8 L179.2,132.4 L179.3,133.0 L179.4,133.6 L179.6,134.2 L179.7,134.8 L179.8,135.4 L180.0,136.0 L180.1,136.6 L180.3,137.2 L180.4,137.8 L180.5,138.4 L180.7,139.0 L180.8,139.6 L180.9,140.2 L181.1,140.8 L181.2,141.4 L181.4,142.0 L181.5,142.6 L181.6,143.2 L181.8,143.8 L181.9,144.4 L182.1,145.0 L182.2,145.6 L182.3,146.2 L182.5,146.8 L182.6,147.4 L182.8,148.0 L182.9,148.6 L183.0,149.2 L183.2,149.8 L183.3,150.4 L183.5,151.0 L183.6,151.6 L183.8,152.2 L183.9,152.8 L184.0,153.4 L184.2,154.0 L184.3,154.6 L184.5,155.2 L184.6,155.8 L184.8,156.4 L184.9,157.0 L185.0,157.6 L185.2,158.2 L185.3,158.8 L185.5,159.4 L185.6,159.9 L185.8,160.5 L185.9,161.1 L186.1,161.7 L186.2,162.3 L186.3,162.9 L186.5,163.5 L186.6,164.1 L186.8,164.7 L186.9,165.3 L187.1,165.9 L187.2,166.5 L187.4,167.1 L187.5,167.7 L187.7,168.3 L187.8,168.9 L188.0,169.5 L188.1,170.1 L188.3,170.7 L188.4,171.3 L188.6,171.9 L188.7,172.5 L188.9,173.1 L189.0,173.7 L189.2,174.3 L189.3,174.9 L189.5,175.5 L189.6,176.1 L189.8,176.7 L189.9,177.3 L190.1,177.9 L190.2,178.5 L190.4,179.1 L190.5,179.7 L190.7,180.2 L190.8,180.8 L191.0,181.4 L191.1,182.0 L191.3,182.6 L191.4,183.2 L191.6,183.8 L191.7,184.4 L191.9,185.0 L192.0,185.6 L192.2,186.2 L192.3,186.8 L192.5,187.4 L192.7,188.0 L192.8,188.6 L193.0,189.2 L193.1,189.8 L193.3,190.4 L193.4,191.0 L193.6,191.6 L193.7,192.2 L193.9,192.8 L194.1,193.4 L194.2,194.0 L194.4,194.6 L194.5,195.2 L194.7,195.7 L194.9,196.3 L195.0,196.9 L195.2,197.5 L195.3,198.1 L195.5,198.7 L195.6,199.3 L195.8,199.9 L196.0,200.5 L196.1,201.1 L196.3,201.7 L196.4,202.3 L196.6,202.9 L196.8,203.5 L196.9,204.1 L197.1,204.7 L197.3,205.3 L197.4,205.9 L197.6,206.5 L197.7,207.1 L197.9,207.7 L198.1,208.2 L198.2,208.8 L198.4,209.4 L198.6,210.0 L198.7,210.6 L198.9,211.2 L199.1,211.8 L199.2,212.4 L199.4,213.0 L199.6,213.6 L199.7,214.2 L199.9,214.8 L200.1,215.4 L200.2,216.0 L200.4,216.6 L200.6,217.2 L200.7,217.8 L200.9,218.4 L201.1,219.0 L201.2,219.6 L201.4,220.1 L201.6,220.7 L201.7,221.3 L201.9,221.9 L202.1,222.5 L202.2,223.1 L202.4,223.7 L202.6,224.3 L202.8,224.9 L202.9,225.5 L203.1,226.1 L203.3,226.7 L203.4,227.3 L203.6,227.9 L203.8,228.5 L204.0,229.1 L204.1,229.7 L204.3,230.3 L204.5,230.8 L204.7,231.4 L204.8,232.0 L205.0,232.6 L205.2,233.2 L205.4,233.8 L205.5,234.4 L205.7,235.0 L205.9,235.6 L206.1,236.2 L206.2,236.8 L206.4,237.4 L206.6,238.0 L206.8,238.6 L206.9,239.2 L207.1,239.8 L207.3,240.4 L207.5,240.9 L207.7,241.5 L207.8,242.1 L208.0,242.7 L208.2,243.3 L208.4,243.9 L208.6,244.5 L208.7,245.1 L208.9,245.7 L209.1,246.3 L209.3,246.9 L209.5,247.5 L209.6,248.1 L209.8,248.7 L210.0,249.3 L210.2,249.9 L210.4,250.5 L210.6,251.0 L210.7,251.6 L210.9,252.2 L211.1,252.8 L211.3,253.4 L211.5,254.0 L211.7,254.6 L211.9,255.2 L212.0,255.8 L212.2,256.4 L212.4,257.0 L212.6,257.6 L212.8,258.2 L213.0,258.8 L213.2,259.4 L213.4,260.0 L213.5,260.5 L213.7,261.1 L213.9,261.7 L214.1,262.3 L214.3,262.9 L214.5,263.5 L214.7,264.1 L214.9,264.7 L215.1,265.3 L215.3,265.9 L215.4,266.5 L215.6,267.1 L215.8,267.7 L216.0,268.3 L216.2,268.9 L216.4,269.5 L216.6,270.1 L216.8,270.6 L217.0,271.2 L217.2,271.8 L217.4,272.4 L217.6,273.0 L217.8,273.6 L218.0,274.2 L218.2,274.8 L218.4,275.4 L218.6,276.0 L218.8,276.6 L219.0,277.2 L219.2,277.8 L219.4,278.4 L219.6,279.0 L219.8,279.6 L220.0,280.1 L220.2,280.7 L220.4,281.3 L220.6,281.9 L220.8,282.5 L221.0,283.1 L221.2,283.7 L221.4,284.3 L221.6,284.9 L221.8,285.5 L222.0,286.1 L222.2,286.7 L222.4,287.3 L222.6,287.9 L222.8,288.4 L223.0,289.0 L223.2,289.6 L223.4,290.2 L223.6,290.8 L223.8,291.4 L224.0,292.0 L224.3,292.6 L224.5,293.2 L224.7,293.8 L224.9,294.4 L225.1,294.9 L225.3,295.5 L225.5,296.1 L225.7,296.7 L226.0,297.3 L226.2,297.9 L226.4,298.5 L226.6,299.1 L226.8,299.7 L227.0,300.2 L227.3,300.8 L227.5,301.4 L227.7,302.0 L227.9,302.6 L228.1,303.2 L228.3,303.8 L228.6,304.4 L228.8,304.9 L229.0,305.5 L229.2,306.1 L229.5,306.7 L229.7,307.3 L229.9,307.9 L230.1,308.4 L230.4,309.0 L230.6,309.6 L230.8,310.2 L231.1,310.8 L231.3,311.4 L231.5,311.9 L231.7,312.5 L232.0,313.1 L232.2,313.7 L232.4,314.3 L232.7,314.8 L232.9,315.4 L233.1,316.0 L233.4,316.6 L233.6,317.1 L233.9,317.7 L234.1,318.3 L234.3,318.9 L234.6,319.5 L234.8,320.0 L235.1,320.6 L235.3,321.2 L235.5,321.8 L235.8,322.3 L236.0,322.9 L236.3,323.5 L236.5,324.0 L236.8,324.6 L237.0,325.2 L237.3,325.8 L237.5,326.3 L237.8,326.9 L238.0,327.5 L238.3,328.0 L238.5,328.6 L238.8,329.2 L239.0,329.7 L239.3,330.3 L239.6,330.9 L239.8,331.4 L240.1,332.0 L240.3,332.6 L240.6,333.1 L240.9,333.7 L241.1,334.2 L241.4,334.8 L241.7,335.4 L241.9,335.9 L242.2,336.5 L242.5,337.0 L242.7,337.6 L243.0,338.2 L243.3,338.7 L243.5,339.3 L243.8,339.8 L244.1,340.4 L244.4,340.9 L244.6,341.5 L244.9,342.0 L245.2,342.6 L245.5,343.1 L245.8,343.7 L246.0,344.2 L246.3,344.8 L246.6,345.3 L246.9,345.9 L247.2,346.4 L247.5,347.0 L247.7,347.5 L248.0,348.1 L248.3,348.6 L248.6,349.1 L248.9,349.7 L249.2,350.2 L249.5,350.8 L249.8,351.3 L250.1,351.8 L250.4,352.4 L250.7,352.9 L251.0,353.5 L251.3,354.0 L251.6,354.5 L251.9,355.1 L252.2,355.6 L252.5,356.1 L252.8,356.7 L253.1,357.2 L253.4,357.7 L253.7,358.2 L254.1,358.8 L254.4,359.3 L254.7,359.8 L255.0,360.3 L255.3,360.9 L255.6,361.4 L256.0,361.9 L256.3,362.4 L256.6,363.0 L256.9,363.5 L257.2,364.0 L257.6,364.5 L257.9,365.0 L258.2,365.5 L258.6,366.1 L258.9,366.6 L259.2,367.1 L259.6,367.6 L259.9,368.1 L260.2,368.6 L260.6,369.1 L260.9,369.6 L261.2,370.1 L261.6,370.6 L261.9,371.2 L262.3,371.7 L262.6,372.2 L263.0,372.7 L263.3,373.2 L263.7,373.7 L264.0,374.2 L264.4,374.7 L264.7,375.2 L265.1,375.6 L265.4,376.1 L265.8,376.6 L266.2,377.1 L266.5,377.6 L266.9,378.1 L267.2,378.6 L267.6,379.1 L268.0,379.6 L268.3,380.1 L268.7,380.5 L269.1,381.0 L269.5,381.5 L269.8,382.0 L270.2,382.5 L270.6,382.9 L271.0,383.4 L271.4,383.9 L271.7,384.4 L272.1,384.8 L272.5,385.3 L272.9,385.8 L273.3,386.3 L273.7,386.7 L274.1,387.2 L274.5,387.7 L274.8,388.1 L275.2,388.6 L275.6,389.0 L276.0,389.5 L276.4,390.0 L276.8,390.4 L277.3,390.9 L277.7,391.3 L278.1,391.8 L278.5,392.2 L278.9,392.7 L279.3,393.1 L279.7,393.6 L280.1,394.0 L280.5,394.5 L281.0,394.9 L281.4,395.4 L281.8,395.8 L282.2,396.3 L282.7,396.7 L283.1,397.1 L283.5,397.6 L283.9,398.0 L284.4,398.5 L284.8,398.9 L285.2,399.3 L285.7,399.7 L286.1,400.2 L286.6,400.6 L287.0,401.0 L287.5,401.5 L287.9,401.9 L288.3,402.3 L288.8,402.7 L289.2,403.1 L289.7,403.6 L290.2,404.0 L290.6,404.4 L291.1,404.8 L291.5,405.2 L292.0,405.6 L292.5,406.0 L292.9,406.4 L293.4,406.8 L293.8,407.2 L294.3,407.6 L294.8,408.0 L295.3,408.4 L295.7,408.8 L296.2,409.2 L296.7,409.6 L297.2,410.0 L297.6,410.3 L298.1,410.7 L298.6,411.1 L299.1,411.5 L299.6,411.8 L300.1,412.2 L300.6,412.6 L301.1,413.0 L301.6,413.3 L302.0,413.7 L302.5,414.0 L303.0,414.4 L303.5,414.8 L304.0,415.1 L304.5,415.5 L305.1,415.8 L305.6,416.2 L306.1,416.5 L306.6,416.8 L307.1,417.2 L307.6,417.5 L308.1,417.8 L308.6,418.2 L309.1,418.5 L309.7,418.8 L310.2,419.1 L310.7,419.5 L311.2,419.8 L311.8,420.1 L312.3,420.4 L312.8,420.7 L313.3,421.0 L313.9,421.3 L314.4,421.6 L314.9,421.9 L315.5,422.2 L316.0,422.5 L316.5,422.8 L317.1,423.1 L317.6,423.3 L318.2,423.6 L318.7,423.9 L319.3,424.2 L319.8,424.4 L320.4,424.7 L320.9,425.0 L321.5,425.2 L322.0,425.5 L322.6,425.7 L323.1,426.0 L323.7,426.2 L324.2,426.5 L324.8,426.7 L325.4,426.9 L325.9,427.2 L326.5,427.4 L327.1,427.6 L327.6,427.8 L328.2,428.0 L328.8,428.3 L329.3,428.5 L329.9,428.7 L330.5,428.9 L331.1,429.1 L331.7,429.3 L332.2,429.5 L332.8,429.6 L333.4,429.8 L334.0,430.0 L334.6,430.2 L335.2,430.4 L335.7,430.5 L336.3,430.7 L336.9,430.9 L337.5,431.0 L338.1,431.2 L338.7,431.3 L339.3,431.5 L339.9,431.6 L340.5,431.8 L341.1,431.9 L341.7,432.0 L342.3,432.2 L342.9,432.3 L343.5,432.4 L344.1,432.5 L344.7,432.6 L345.4,432.8 L346.0,432.9 L346.6,433.0 L347.2,433.1 L347.8,433.2 L348.4,433.3 L349.1,433.4 L349.7,433.4 L350.3,433.5 L350.9,433.6 L351.5,433.7 L352.2,433.8 L352.8,433.8 L353.4,433.9 L354.1,434.0 L354.7,434.0 L355.3,434.1 L356.0,434.1 L356.6,434.2 L357.2,434.2 L357.9,434.3 L358.5,434.3 L359.2,434.4 L359.8,434.4 L360.4,434.4 L361.1,434.4 L361.7,434.5 L362.4,434.5 L363.0,434.5 L363.7,434.5 L364.3,434.5 L365.0,434.5 L365.6,434.5 L366.3,434.5 L367.0,434.5 L367.6,434.5 L368.3,434.5 L368.9,434.5 L369.6,434.5 L370.3,434.4 L370.9,434.4 L371.6,434.4 L372.3,434.4 L372.9,434.3 L373.6,434.3 L374.3,434.2 L374.9,434.2 L375.6,434.2 L376.3,434.1 L377.0,434.1 L377.6,434.0 L378.3,433.9 L379.0,433.9 L379.7,433.8 L380.4,433.7 L381.0,433.7 L380.00,434.40 L400.00,434.60 L540.00,434.60 L552.00,434.30 L552.0,434.4 L552.8,434.4 L553.5,434.3 L554.3,434.3 L555.1,434.2 L555.9,434.1 L556.6,434.0 L557.4,433.9 L558.1,433.8 L558.9,433.6 L559.6,433.5 L560.4,433.4 L561.1,433.2 L561.8,433.0 L562.5,432.8 L563.2,432.7 L563.9,432.5 L564.6,432.2 L565.3,432.0 L566.0,431.8 L566.7,431.6 L567.4,431.3 L568.1,431.1 L568.7,430.8 L569.4,430.5 L570.0,430.2 L570.7,429.9 L571.3,429.6 L572.0,429.3 L572.6,429.0 L573.2,428.7 L573.8,428.4 L574.4,428.0 L575.1,427.7 L575.7,427.3 L576.3,426.9 L576.9,426.6 L577.4,426.2 L578.0,425.8 L578.6,425.4 L579.2,425.0 L579.7,424.6 L580.3,424.2 L580.9,423.8 L581.4,423.4 L582.0,422.9 L582.5,422.5 L583.1,422.0 L583.6,421.6 L584.1,421.1 L584.6,420.7 L585.2,420.2 L585.7,419.7 L586.2,419.3 L586.7,418.8 L587.2,418.3 L587.7,417.8 L588.2,417.3 L588.7,416.8 L589.2,416.3 L589.6,415.8 L590.1,415.3 L590.6,414.7 L591.0,414.2 L591.5,413.7 L592.0,413.2 L592.4,412.6 L592.9,412.1 L593.3,411.5 L593.7,411.0 L594.2,410.4 L594.6,409.9 L595.0,409.3 L595.4,408.8 L595.9,408.2 L596.3,407.6 L596.7,407.1 L597.1,406.5 L597.5,405.9 L597.9,405.4 L598.3,404.8 L598.7,404.2 L599.1,403.6 L599.5,403.0 L599.8,402.4 L600.2,401.9 L600.6,401.3 L600.9,400.7 L601.3,400.1 L601.7,399.5 L602.0,398.9 L602.4,398.3 L602.7,397.7 L603.1,397.0 L603.4,396.4 L603.8,395.8 L604.1,395.2 L604.4,394.6 L604.8,394.0 L605.1,393.3 L605.4,392.7 L605.7,392.1 L606.0,391.5 L606.3,390.8 L606.7,390.2 L607.0,389.6 L607.3,388.9 L607.6,388.3 L607.9,387.6 L608.2,387.0 L608.5,386.4 L608.7,385.7 L609.0,385.1 L609.3,384.4 L609.6,383.8 L609.9,383.1 L610.1,382.5 L610.4,381.8 L610.7,381.1 L610.9,380.5 L611.2,379.8 L611.5,379.2 L611.7,378.5 L612.0,377.8 L612.2,377.2 L612.5,376.5 L612.7,375.8 L613.0,375.2 L613.2,374.5 L613.4,373.8 L613.7,373.1 L613.9,372.4 L614.1,371.8 L614.4,371.1 L614.6,370.4 L614.8,369.7 L615.1,369.0 L615.3,368.4 L615.5,367.7 L615.7,367.0 L615.9,366.3 L616.1,365.6 L616.3,364.9 L616.6,364.2 L616.8,363.5 L617.0,362.8 L617.2,362.1 L617.4,361.4 L617.6,360.7 L617.8,360.0 L618.0,359.3 L618.2,358.6 L618.3,357.9 L618.5,357.2 L618.7,356.5 L618.9,355.8 L619.1,355.1 L619.3,354.4 L619.5,353.7 L619.6,353.0 L619.8,352.3 L620.0,351.6 L620.2,350.9 L620.3,350.2 L620.5,349.5 L620.7,348.8 L620.9,348.1 L621.0,347.3 L621.2,346.6 L621.4,345.9 L621.5,345.2 L621.7,344.5 L621.9,343.8 L622.0,343.1 L622.2,342.4 L622.3,341.6 L622.5,340.9 L622.6,340.2 L622.8,339.5 L623.0,338.8 L623.1,338.1 L623.3,337.4 L623.4,336.6 L623.6,335.9 L623.7,335.2 L623.9,334.5 L624.0,333.8 L624.2,333.1 L624.3,332.3 L624.5,331.6 L624.6,330.9 L624.8,330.2 L624.9,329.5 L625.0,328.8 L625.2,328.0 L625.3,327.3 L625.5,326.6 L625.6,325.9 L625.8,325.2 L625.9,324.5 L626.0,323.7 L626.2,323.0 L626.3,322.3 L626.5,321.6 L626.6,320.9 L626.7,320.2 L626.9,319.5 L627.0,318.7 L627.2,318.0 L627.3,317.3 L627.4,316.6 L627.6,315.9 L627.7,315.2 L627.8,314.5 L628.0,313.7 L628.1,313.0 L628.2,312.3 L628.4,311.6 L628.5,310.9 L628.6,310.2 L628.7,309.4 L628.9,308.7 L629.0,308.0 L629.1,307.3 L629.3,306.6 L629.4,305.9 L629.5,305.2 L629.6,304.4 L629.8,303.7 L629.9,303.0 L630.0,302.3 L630.1,301.6 L630.2,300.9 L630.4,300.2 L630.5,299.4 L630.6,298.7 L630.7,298.0 L630.9,297.3 L631.0,296.6 L631.1,295.9 L631.2,295.2 L631.3,294.5 L631.4,293.7 L631.6,293.0 L631.7,292.3 L631.8,291.6 L631.9,290.9 L632.0,290.2 L632.1,289.5 L632.3,288.7 L632.4,288.0 L632.5,287.3 L632.6,286.6 L632.7,285.9 L632.8,285.2 L632.9,284.5 L633.0,283.7 L633.2,283.0 L633.3,282.3 L633.4,281.6 L633.5,280.9 L633.6,280.2 L633.7,279.5 L633.8,278.8 L633.9,278.0 L634.0,277.3 L634.1,276.6 L634.2,275.9 L634.3,275.2 L634.4,274.5 L634.5,273.8 L634.7,273.1 L634.8,272.3 L634.9,271.6 L635.0,270.9 L635.1,270.2 L635.2,269.5 L635.3,268.8 L635.4,268.1 L635.5,267.4 L635.6,266.6 L635.7,265.9 L635.8,265.2 L635.9,264.5 L636.0,263.8 L636.1,263.1 L636.2,262.4 L636.3,261.6 L636.4,260.9 L636.4,260.2 L636.5,259.5 L636.6,258.8 L636.7,258.1 L636.8,257.4 L636.9,256.7 L637.0,256.0 L637.1,255.2 L637.2,254.5 L637.3,253.8 L637.4,253.1 L637.5,252.4 L637.6,251.7 L637.7,251.0 L637.8,250.3 L637.8,249.5 L637.9,248.8 L638.0,248.1 L638.1,247.4 L638.2,246.7 L638.3,246.0 L638.4,245.3 L638.5,244.6 L638.5,243.8 L638.6,243.1 L638.7,242.4 L638.8,241.7 L638.9,241.0 L639.0,240.3 L639.1,239.6 L639.1,238.9 L639.2,238.1 L639.3,237.4 L639.4,236.7 L639.5,236.0 L639.6,235.3 L639.6,234.6 L639.7,233.9 L639.8,233.2 L639.9,232.5 L640.0,231.7 L640.1,231.0 L640.1,230.3 L640.2,229.6 L640.3,228.9 L640.4,228.2 L640.5,227.5 L640.5,226.8 L640.6,226.0 L640.7,225.3 L640.8,224.6 L640.8,223.9 L640.9,223.2 L641.0,222.5 L641.1,221.8 L641.2,221.1 L641.2,220.4 L641.3,219.6 L641.4,218.9 L641.5,218.2 L641.5,217.5 L641.6,216.8 L641.7,216.1 L641.8,215.4 L641.8,214.7 L641.9,213.9 L642.0,213.2 L642.0,212.5 L642.1,211.8 L642.2,211.1 L642.3,210.4 L642.3,209.7 L642.4,209.0 L642.5,208.3 L642.6,207.5 L642.6,206.8 L642.7,206.1 L642.8,205.4 L642.8,204.7 L642.9,204.0 L643.0,203.3 L643.0,202.6 L643.1,201.9 L643.2,201.1 L643.2,200.4 L643.3,199.7 L643.4,199.0 L643.4,198.3 L643.5,197.6 L643.6,196.9 L643.7,196.2 L643.7,195.4 L643.8,194.7 L643.9,194.0 L643.9,193.3 L644.0,192.6 L644.0,191.9 L644.1,191.2 L644.2,190.5 L644.2,189.8 L644.3,189.0 L644.4,188.3 L644.4,187.6 L644.5,186.9 L644.6,186.2 L644.6,185.5 L644.7,184.8 L644.8,184.1 L644.8,183.3 L644.9,182.6 L644.9,181.9 L645.0,181.2 L645.1,180.5 L645.1,179.8 L645.2,179.1 L645.3,178.4 L645.3,177.7 L645.4,176.9 L645.4,176.2 L645.5,175.5 L645.6,174.8 L645.6,174.1 L645.7,173.4 L645.7,172.7 L645.8,172.0 L645.9,171.2 L645.9,170.5 L646.0,169.8 L646.0,169.1 L646.1,168.4 L646.2,167.7 L646.2,167.0 L646.3,166.3 L646.3,165.5 L646.4,164.8 L646.5,164.1 L646.5,163.4 L646.6,162.7 L646.6,162.0 L646.7,161.3 L646.7,160.6 L646.8,159.8 L646.9,159.1 L646.9,158.4 L647.0,157.7 L647.0,157.0 L647.1,156.3 L647.1,155.6 L647.2,154.9 L647.3,154.1 L647.3,153.4 L647.4,152.7 L647.4,152.0 L647.5,151.3 L647.5,150.6 L647.6,149.9 L647.7,149.2 L647.7,148.4 L647.8,147.7 L647.8,147.0 L647.9,146.3 L647.9,145.6 L648.0,144.9 L648.0,144.2 L648.1,143.5 L648.1,142.7 L648.2,142.0 L648.3,141.3 L648.3,140.6 L648.4,139.9 L648.4,139.2 L648.5,138.5 L648.5,137.8 L648.6,137.0 L648.6,136.3 L648.7,135.6 L648.7,134.9 L648.8,134.2 L648.9,133.5 L648.9,132.8 L649.0,132.0 L649.0,131.3 L649.1,130.6 L649.1,129.9 L649.2,129.2 L649.2,128.5 L649.3,127.8 L649.3,127.1 L649.4,126.3 L649.4,125.6 L649.5,124.9 L649.6,124.2 L649.6,123.5 L649.7,122.8 L649.7,122.1 L649.8,121.3 L649.8,120.6 L649.9,119.9 L649.9,119.2 L650.0,118.5 L650.0,117.8 L650.1,117.1 L650.1,116.3 L650.2,115.6 L650.2,114.9 L650.3,114.2 L650.4,113.5 L650.4,112.8 L650.5,112.1 L650.5,111.3 L650.6,110.6 L650.6,109.9 L650.7,109.2 L650.7,108.5 L650.8,107.8 L650.8,107.1 L650.9,106.3 L650.9,105.6 L651.0,104.9 L651.0,104.2 L651.1,103.5 L651.2,102.8 L651.2,102.0 L651.3,101.3 L651.3,100.6 L651.4,99.9 L651.4,99.2 L651.5,98.5 L651.5,97.8 L651.6,97.0 L651.6,96.3 L651.7,95.6 L651.7,94.9 L651.8,94.2 L651.8,93.5 L651.9,92.7 L652.0,92.0 L652.0,91.3 L652.1,90.6 L652.1,89.9 L652.2,89.2 L652.2,88.5 L652.3,87.7 L652.3,87.0 L652.4,86.3 L652.4,85.6 L652.5,84.9 L652.6,84.2 L652.6,83.4 L652.7,82.7 L652.7,82.0 L652.8,81.3 L652.8,80.6 L652.9,79.9 L652.9,79.1 L653.0,78.4 L653.0,77.7 L653.1,77.0 L653.2,76.3 L653.2,75.6 L653.3,74.8 L653.3,74.1 L653.4,73.4 L653.4,72.7 L653.5,72.0 L653.5,71.3 L653.6,70.5 L653.7,69.8 L653.7,69.1 L653.8,68.4 L653.8,67.7 L653.9,66.9 L653.9,66.2 L654.0,65.5 L654.1,64.8 L654.1,64.1 L654.2,63.4 L654.2,62.6 L654.3,61.9 L654.4,61.2 L654.4,60.5 L654.5,59.8 L654.5,59.1 L654.6,58.3 L654.6,57.6 L654.7,56.9 L654.8,56.2 L654.8,55.5 L654.9,54.7 L654.9,54.0 L655.0,53.3 L655.1,52.6 L655.1,51.9 L655.2,51.1 L655.2,50.4 L655.3,49.7 L655.4,49.0 L655.4,48.3 L655.5,47.5 L655.5,46.8 L655.6,46.1 L655.7,45.4 L655.7,44.7 L655.8,44.0 L655.9,43.2 L655.9,42.5 L656.0,41.8 L656.0,41.1 L656.1,40.4 L656.2,39.6 L656.2,38.9 L656.3,38.2 L656.4,37.5 L656.4,36.8 L656.5,36.0 L656.6,35.3 L656.6,34.6 L656.7,33.9 L656.7,33.1 L656.8,32.4 L656.9,31.7 L656.9,31.0 L657.0,30.3 L657.1,29.5 L657.1,28.8 L657.2,28.1 L657.3,27.4 L657.3,26.7 L657.4,25.9 L657.5,25.2 L657.5,24.5 L657.6,23.8 L657.7,23.0 L657.7,22.3 L657.8,21.6 L657.9,20.9 L658.0,20.2 L658.0,19.4 L658.1,18.7 L658.2,18.0 L658.2,17.3 L658.3,16.5 L658.4,15.8 L658.4,15.1 L658.5,14.4 L658.6,13.7 L658.7,12.9 L658.7,12.2 L658.8,11.5 L658.9,10.8 L659.0,10.0 L659.0,9.3 L659.1,8.6 L659.2,7.9 L659.2,7.1 L659.3,6.4 L659.4,5.7 L659.5,5.0 L659.5,4.3 L659.6,3.5 L659.7,2.8" stroke="#f2f21a" stroke-width="2.4" stroke-dasharray="12.8 6 0.01 6.4" stroke-linecap="round"/>
<path d="M214.9,3.0 L215.1,3.8 L215.2,4.5 L215.4,5.2 L215.5,5.9 L215.7,6.6 L215.8,7.3 L216.0,8.0 L216.1,8.7 L216.3,9.4 L216.4,10.1 L216.6,10.9 L216.7,11.6 L216.9,12.3 L217.1,13.0 L217.2,13.7 L217.4,14.4 L217.5,15.1 L217.7,15.8 L217.8,16.5 L218.0,17.2 L218.1,17.9 L218.3,18.7 L218.4,19.4 L218.6,20.1 L218.8,20.8 L218.9,21.5 L219.1,22.2 L219.2,22.9 L219.4,23.6 L219.5,24.3 L219.7,25.0 L219.8,25.7 L220.0,26.5 L220.1,27.2 L220.3,27.9 L220.5,28.6 L220.6,29.3 L220.8,30.0 L220.9,30.7 L221.1,31.4 L221.2,32.1 L221.4,32.8 L221.5,33.5 L221.7,34.2 L221.8,35.0 L222.0,35.7 L222.2,36.4 L222.3,37.1 L222.5,37.8 L222.6,38.5 L222.8,39.2 L222.9,39.9 L223.1,40.6 L223.2,41.3 L223.4,42.0 L223.6,42.7 L223.7,43.5 L223.9,44.2 L224.0,44.9 L224.2,45.6 L224.3,46.3 L224.5,47.0 L224.6,47.7 L224.8,48.4 L225.0,49.1 L225.1,49.8 L225.3,50.5 L225.4,51.2 L225.6,51.9 L225.7,52.7 L225.9,53.4 L226.1,54.1 L226.2,54.8 L226.4,55.5 L226.5,56.2 L226.7,56.9 L226.8,57.6 L227.0,58.3 L227.2,59.0 L227.3,59.7 L227.5,60.4 L227.6,61.1 L227.8,61.9 L227.9,62.6 L228.1,63.3 L228.3,64.0 L228.4,64.7 L228.6,65.4 L228.7,66.1 L228.9,66.8 L229.1,67.5 L229.2,68.2 L229.4,68.9 L229.5,69.6 L229.7,70.3 L229.9,71.0 L230.0,71.7 L230.2,72.5 L230.3,73.2 L230.5,73.9 L230.7,74.6 L230.8,75.3 L231.0,76.0 L231.1,76.7 L231.3,77.4 L231.5,78.1 L231.6,78.8 L231.8,79.5 L232.0,80.2 L232.1,80.9 L232.3,81.6 L232.4,82.3 L232.6,83.0 L232.8,83.7 L232.9,84.5 L233.1,85.2 L233.3,85.9 L233.4,86.6 L233.6,87.3 L233.7,88.0 L233.9,88.7 L234.1,89.4 L234.2,90.1 L234.4,90.8 L234.6,91.5 L234.7,92.2 L234.9,92.9 L235.1,93.6 L235.2,94.3 L235.4,95.0 L235.6,95.7 L235.7,96.4 L235.9,97.1 L236.1,97.8 L236.2,98.5 L236.4,99.2 L236.6,100.0 L236.7,100.7 L236.9,101.4 L237.1,102.1 L237.2,102.8 L237.4,103.5 L237.6,104.2 L237.7,104.9 L237.9,105.6 L238.1,106.3 L238.2,107.0 L238.4,107.7 L238.6,108.4 L238.8,109.1 L238.9,109.8 L239.1,110.5 L239.3,111.2 L239.4,111.9 L239.6,112.6 L239.8,113.3 L240.0,114.0 L240.1,114.7 L240.3,115.4 L240.5,116.1 L240.6,116.8 L240.8,117.5 L241.0,118.2 L241.2,118.9 L241.3,119.6 L241.5,120.3 L241.7,121.0 L241.9,121.7 L242.0,122.4 L242.2,123.1 L242.4,123.8 L242.6,124.5 L242.7,125.2 L242.9,125.9 L243.1,126.6 L243.3,127.3 L243.5,128.0 L243.6,128.7 L243.8,129.4 L244.0,130.1 L244.2,130.8 L244.3,131.5 L244.5,132.2 L244.7,132.9 L244.9,133.6 L245.1,134.3 L245.2,135.0 L245.4,135.7 L245.6,136.4 L245.8,137.1 L246.0,137.8 L246.2,138.5 L246.3,139.2 L246.5,139.9 L246.7,140.6 L246.9,141.3 L247.1,142.0 L247.3,142.7 L247.4,143.4 L247.6,144.1 L247.8,144.8 L248.0,145.5 L248.2,146.2 L248.4,146.9 L248.6,147.6 L248.7,148.3 L248.9,149.0 L249.1,149.7 L249.3,150.4 L249.5,151.1 L249.7,151.8 L249.9,152.5 L250.1,153.2 L250.3,153.9 L250.4,154.6 L250.6,155.3 L250.8,156.0 L251.0,156.7 L251.2,157.4 L251.4,158.1 L251.6,158.8 L251.8,159.5 L252.0,160.2 L252.2,160.9 L252.4,161.6 L252.6,162.2 L252.8,162.9 L252.9,163.6 L253.1,164.3 L253.3,165.0 L253.5,165.7 L253.7,166.4 L253.9,167.1 L254.1,167.8 L254.3,168.5 L254.5,169.2 L254.7,169.9 L254.9,170.6 L255.1,171.3 L255.3,172.0 L255.5,172.7 L255.7,173.4 L255.9,174.1 L256.1,174.7 L256.3,175.4 L256.5,176.1 L256.7,176.8 L256.9,177.5 L257.1,178.2 L257.3,178.9 L257.5,179.6 L257.7,180.3 L257.9,181.0 L258.2,181.7 L258.4,182.4 L258.6,183.1 L258.8,183.7 L259.0,184.4 L259.2,185.1 L259.4,185.8 L259.6,186.5 L259.8,187.2 L260.0,187.9 L260.2,188.6 L260.4,189.3 L260.7,190.0 L260.9,190.7 L261.1,191.3 L261.3,192.0 L261.5,192.7 L261.7,193.4 L261.9,194.1 L262.1,194.8 L262.4,195.5 L262.6,196.2 L262.8,196.9 L263.0,197.6 L263.2,198.2 L263.4,198.9 L263.7,199.6 L263.9,200.3 L264.1,201.0 L264.3,201.7 L264.5,202.4 L264.8,203.1 L265.0,203.7 L265.2,204.4 L265.4,205.1 L265.6,205.8 L265.9,206.5 L266.1,207.2 L266.3,207.9 L266.5,208.6 L266.8,209.2 L267.0,209.9 L267.2,210.6 L267.4,211.3 L267.7,212.0 L267.9,212.7 L268.1,213.4 L268.3,214.0 L268.6,214.7 L268.8,215.4 L269.0,216.1 L269.3,216.8 L269.5,217.5 L269.7,218.2 L269.9,218.8 L270.2,219.5 L270.4,220.2 L270.6,220.9 L270.9,221.6 L271.1,222.3 L271.3,222.9 L271.6,223.6 L271.8,224.3 L272.1,225.0 L272.3,225.7 L272.5,226.4 L272.8,227.0 L273.0,227.7 L273.2,228.4 L273.5,229.1 L273.7,229.8 L274.0,230.5 L274.2,231.1 L274.5,231.8 L274.7,232.5 L274.9,233.2 L275.2,233.9 L275.4,234.5 L275.7,235.2 L275.9,235.9 L276.2,236.6 L276.4,237.3 L276.7,237.9 L276.9,238.6 L277.2,239.3 L277.4,240.0 L277.7,240.7 L277.9,241.3 L278.2,242.0 L278.4,242.7 L278.7,243.4 L278.9,244.1 L279.2,244.7 L279.4,245.4 L279.7,246.1 L279.9,246.8 L280.2,247.4 L280.4,248.1 L280.7,248.8 L281.0,249.5 L281.2,250.2 L281.5,250.8 L281.7,251.5 L282.0,252.2 L282.2,252.9 L282.5,253.5 L282.8,254.2 L283.0,254.9 L283.3,255.6 L283.6,256.2 L283.8,256.9 L284.1,257.6 L284.4,258.3 L284.6,258.9 L284.9,259.6 L285.2,260.3 L285.4,261.0 L285.7,261.6 L286.0,262.3 L286.2,263.0 L286.5,263.6 L286.8,264.3 L287.0,265.0 L287.3,265.7 L287.6,266.3 L287.9,267.0 L288.1,267.7 L288.4,268.4 L288.7,269.0 L289.0,269.7 L289.2,270.4 L289.5,271.0 L289.8,271.7 L290.1,272.4 L290.4,273.1 L290.6,273.7 L290.9,274.4 L291.2,275.1 L291.5,275.7 L291.8,276.4 L292.1,277.1 L292.3,277.7 L292.6,278.4 L292.9,279.1 L293.2,279.8 L293.5,280.4 L293.8,281.1 L294.1,281.8 L294.4,282.4 L294.6,283.1 L294.9,283.8 L295.2,284.4 L295.5,285.1 L295.8,285.8 L296.1,286.4 L296.4,287.1 L296.7,287.8 L297.0,288.4 L297.3,289.1 L297.6,289.8 L297.9,290.4 L298.2,291.1 L298.5,291.8 L298.8,292.4 L299.1,293.1 L299.4,293.7 L299.7,294.4 L300.0,295.1 L300.3,295.7 L300.6,296.4 L300.9,297.1 L301.2,297.7 L301.5,298.4 L301.8,299.1 L302.1,299.7 L302.5,300.4 L302.8,301.0 L303.1,301.7 L303.4,302.4 L303.7,303.0 L304.0,303.7 L304.3,304.3 L304.6,305.0 L305.0,305.7 L305.3,306.3 L305.6,307.0 L305.9,307.6 L306.2,308.3 L306.5,309.0 L306.9,309.6 L307.2,310.3 L307.5,310.9 L307.8,311.6 L308.2,312.3 L308.5,312.9 L308.8,313.6 L309.1,314.2 L309.5,314.9 L309.8,315.5 L310.1,316.2 L310.5,316.8 L310.8,317.5 L311.1,318.1 L311.5,318.8 L311.8,319.4 L312.1,320.1 L312.5,320.7 L312.8,321.4 L313.1,322.0 L313.5,322.7 L313.8,323.3 L314.2,324.0 L314.5,324.6 L314.8,325.3 L315.2,325.9 L315.5,326.6 L315.9,327.2 L316.2,327.9 L316.6,328.5 L316.9,329.1 L317.3,329.8 L317.6,330.4 L318.0,331.1 L318.3,331.7 L318.7,332.3 L319.0,333.0 L319.4,333.6 L319.8,334.3 L320.1,334.9 L320.5,335.5 L320.8,336.2 L321.2,336.8 L321.6,337.4 L321.9,338.0 L322.3,338.7 L322.7,339.3 L323.0,339.9 L323.4,340.6 L323.8,341.2 L324.2,341.8 L324.5,342.4 L324.9,343.1 L325.3,343.7 L325.7,344.3 L326.0,344.9 L326.4,345.5 L326.8,346.2 L327.2,346.8 L327.6,347.4 L328.0,348.0 L328.3,348.6 L328.7,349.2 L329.1,349.8 L329.5,350.5 L329.9,351.1 L330.3,351.7 L330.7,352.3 L331.1,352.9 L331.5,353.5 L331.9,354.1 L332.3,354.7 L332.7,355.3 L333.1,355.9 L333.5,356.5 L333.9,357.1 L334.3,357.7 L334.7,358.3 L335.1,358.9 L335.5,359.5 L335.9,360.1 L336.4,360.7 L336.8,361.2 L337.2,361.8 L337.6,362.4 L338.0,363.0 L338.5,363.6 L338.9,364.2 L339.3,364.8 L339.7,365.3 L340.2,365.9 L340.6,366.5 L341.0,367.1 L341.5,367.6 L341.9,368.2 L342.3,368.8 L342.8,369.3 L343.2,369.9 L343.6,370.5 L344.1,371.0 L344.5,371.6 L345.0,372.2 L345.4,372.7 L345.9,373.3 L346.3,373.8 L346.8,374.4 L347.2,374.9 L347.7,375.5 L348.1,376.1 L348.6,376.6 L349.1,377.1 L349.5,377.7 L350.0,378.2 L350.4,378.8 L350.9,379.3 L351.4,379.9 L351.9,380.4 L352.3,380.9 L352.8,381.5 L353.3,382.0 L353.8,382.5 L354.2,383.0 L354.7,383.6 L355.2,384.1 L355.7,384.6 L356.2,385.1 L356.7,385.7 L357.1,386.2 L357.6,386.7 L358.1,387.2 L358.6,387.7 L359.1,388.2 L359.6,388.7 L360.1,389.2 L360.6,389.7 L361.1,390.2 L361.6,390.7 L362.1,391.2 L362.7,391.7 L363.2,392.2 L363.7,392.7 L364.2,393.2 L364.7,393.7 L365.2,394.1 L365.8,394.6 L366.3,395.1 L366.8,395.6 L367.3,396.1 L367.9,396.5 L368.4,397.0 L368.9,397.5 L369.5,397.9 L370.0,398.4 L370.5,398.9 L371.1,399.3 L371.6,399.8 L372.2,400.2 L372.7,400.7 L373.3,401.1 L373.8,401.6 L374.4,402.0 L374.9,402.4 L375.5,402.9 L376.0,403.3 L376.6,403.8 L377.2,404.2 L377.7,404.6 L378.3,405.0 L378.9,405.5 L379.5,405.9 L380.0,406.3 L380.6,406.7 L381.2,407.1 L381.8,407.5 L382.3,407.9 L382.9,408.3 L383.5,408.8 L384.1,409.2 L384.7,409.5 L385.3,409.9 L385.9,410.3 L386.5,410.7 L387.1,411.1 L387.7,411.5 L388.3,411.9 L388.9,412.2 L389.5,412.6 L390.1,413.0 L390.7,413.4 L391.4,413.7 L392.0,414.1 L392.6,414.4 L393.2,414.8 L393.8,415.2 L394.5,415.5 L395.1,415.9 L395.7,416.2 L396.4,416.5 L397.0,416.9 L397.6,417.2 L398.3,417.6 L398.9,417.9 L399.6,418.2 L400.2,418.5 L400.8,418.9 L401.5,419.2 L402.1,419.5 L402.8,419.8 L403.5,420.1 L404.1,420.4 L404.8,420.7 L405.4,421.0 L406.1,421.3 L406.7,421.6 L407.4,421.9 L408.1,422.2 L408.7,422.5 L409.4,422.7 L410.1,423.0 L410.8,423.3 L411.4,423.6 L412.1,423.8 L412.8,424.1 L413.5,424.4 L414.1,424.6 L414.8,424.9 L415.5,425.1 L416.2,425.4 L416.9,425.6 L417.6,425.8 L418.3,426.1 L419.0,426.3 L419.6,426.5 L420.3,426.8 L421.0,427.0 L421.7,427.2 L422.4,427.4 L423.1,427.7 L423.8,427.9 L424.5,428.1 L425.2,428.3 L425.9,428.5 L426.6,428.7 L427.4,428.9 L428.1,429.0 L428.8,429.2 L429.5,429.4 L430.2,429.6 L430.9,429.8 L431.6,429.9 L432.3,430.1 L433.1,430.3 L433.8,430.4 L434.5,430.6 L435.2,430.7 L435.9,430.9 L436.7,431.0 L437.4,431.2 L438.1,431.3 L438.8,431.5 L439.5,431.6 L440.3,431.7 L441.0,431.8 L441.7,432.0 L442.5,432.1 L443.2,432.2 L443.9,432.3 L444.6,432.4 L445.4,432.5 L446.1,432.6 L446.8,432.7 L447.6,432.8 L448.3,432.9 L449.1,433.0 L449.8,433.0 L450.5,433.1 L451.3,433.2 L452.0,433.2 L452.7,433.3 L453.5,433.4 L454.2,433.4 L455.0,433.5 L455.7,433.5 L456.4,433.6 L457.2,433.6 L457.9,433.6 L458.7,433.7 L459.4,433.7 L460.2,433.7 L460.9,433.7 L461.7,433.8 L462.4,433.8 L463.1,433.8 L463.9,433.8 L464.6,433.8 L465.4,433.8 L466.1,433.8 L466.9,433.7 L467.6,433.7 L468.4,433.7 L469.1,433.7 L469.9,433.7 L470.6,433.6 L471.4,433.6 L472.1,433.5 L472.9,433.5 L473.6,433.4 L473.00,434.30 L490.00,434.60 L600.00,434.60 L630.00,434.50 L645.00,434.20 L645.00,434.20 L668.40,433.00" stroke="#1ee01e" stroke-width="2.3"/>
</g>
<g fill="none" stroke="#000">
<rect x="109.40" y="523.30" width="559.40" height="423.20" stroke-width="1.8"/>
<path d="M249.25,946.50 V937.80 M249.25,523.30 V532.00 M389.10,946.50 V937.80 M389.10,523.30 V532.00 M528.95,946.50 V937.80 M528.95,523.30 V532.00 M109.40,644.21 H118.10 M668.80,644.21 H660.10 M109.40,765.13 H118.10 M668.80,765.13 H660.10 M109.40,886.04 H118.10 M668.80,886.04 H660.10" stroke-width="1.4"/>
</g>
<g fill="none" stroke="#000" stroke-width="2.1">
<circle cx="136.98" cy="579.20" r="6.3"/>
<circle cx="217.45" cy="600.70" r="6.3"/>
<circle cx="279.86" cy="628.40" r="6.3"/>
<circle cx="330.86" cy="652.10" r="6.3"/>
<circle cx="373.97" cy="678.60" r="6.3"/>
<circle cx="411.32" cy="703.00" r="6.3"/>
<circle cx="444.26" cy="728.50" r="6.3"/>
<circle cx="473.73" cy="753.60" r="6.3"/>
<circle cx="500.39" cy="778.90" r="6.3"/>
<circle cx="524.73" cy="803.80" r="6.3"/>
<circle cx="547.12" cy="829.00" r="6.3"/>
<circle cx="567.84" cy="854.00" r="6.3"/>
<circle cx="587.14" cy="871.80" r="6.3"/>
<circle cx="605.19" cy="897.60" r="6.3"/>
</g>
<g style="font-family:&quot;Liberation Serif&quot;,serif" fill="#000">
<text x="-1.80" y="27.80" font-size="40.5" text-anchor="start">(a)</text>
<text x="103.70" y="26.40" font-size="36" text-anchor="end">0.2</text>
<text x="103.70" y="131.75" font-size="36" text-anchor="end">0.15</text>
<text x="103.70" y="237.10" font-size="36" text-anchor="end">0.1</text>
<text x="103.70" y="342.45" font-size="36" text-anchor="end">0.05</text>
<text x="103.70" y="447.80" font-size="36" text-anchor="end">0</text>
<text x="112.20" y="467.00" font-size="36" text-anchor="middle">0</text>
<text x="223.44" y="467.00" font-size="36" text-anchor="middle">2</text>
<text x="334.68" y="467.00" font-size="36" text-anchor="middle">4</text>
<text x="445.92" y="467.00" font-size="36" text-anchor="middle">6</text>
<text x="557.16" y="467.00" font-size="36" text-anchor="middle">8</text>
<text x="668.40" y="467.00" font-size="36" text-anchor="middle">10</text>
<text transform="translate(352.23,504.60) scale(0.9421,1)" font-size="45.90" font-style="italic">U</text>
<path d="M387.6,513.0 L402.6,473.1" stroke="#000" stroke-width="1.75" fill="none"/>
<g transform="translate(407.65,504.14) scale(0.959,1.049)" fill="none" stroke="#000" stroke-linecap="round"><path d="M0,-11.8 C1.2,-15.6 2.6,-18.1 4.8,-18.1 C7.2,-18.2 8.0,-16.4 7.4,-14.0 L5.4,-7.2 C4.5,-3.8 4.6,0.3 8.4,0.3 C11.4,0.3 13.4,-2.2 14.3,-4.7 M17.9,-17.2 L14.5,-5.0 C13.9,-2.2 15.3,0.3 18.4,0.3 C23.2,0.3 26.5,-7.8 26.9,-13.6 C27.1,-16.2 26.4,-17.5 25.4,-17.5 C24.4,-17.5 24.0,-16.6 24.5,-15.8" stroke-width="1.75" vector-effect="non-scaling-stroke"/><path d="M7.3,-14.2 L5.3,-7.3 M17.8,-17.0 L14.7,-5.6 M26.8,-14.2 C26.5,-10.5 25.6,-7.8 24.6,-5.8 M25.6,-17.2 C25.0,-17.2 24.4,-16.6 25.2,-15.6" stroke-width="3.10" vector-effect="non-scaling-stroke"/></g>
<g transform="translate(34.6,291.6) rotate(-90)"><path fill-rule="evenodd" d="M0.00,0.00 L15.60,-30.60 L29.60,0.00 Z M2.58,-2.20 L24.63,-2.20 L14.20,-25.00 Z"/><text transform="translate(34.89,0.00) scale(1.1399,1)" font-size="43.83" font-style="italic">E</text><path d="M68.7,9.6 L83.6,-31.7" stroke="#000" stroke-width="1.75" fill="none"/><g transform="translate(88.45,-1.03) scale(0.948,0.940)" fill="none" stroke="#000" stroke-linecap="round"><path d="M0,-11.8 C1.2,-15.6 2.6,-18.1 4.8,-18.1 C7.2,-18.2 8.0,-16.4 7.4,-14.0 L5.4,-7.2 C4.5,-3.8 4.6,0.3 8.4,0.3 C11.4,0.3 13.4,-2.2 14.3,-4.7 M17.9,-17.2 L14.5,-5.0 C13.9,-2.2 15.3,0.3 18.4,0.3 C23.2,0.3 26.5,-7.8 26.9,-13.6 C27.1,-16.2 26.4,-17.5 25.4,-17.5 C24.4,-17.5 24.0,-16.6 24.5,-15.8" stroke-width="1.75" vector-effect="non-scaling-stroke"/><path d="M7.3,-14.2 L5.3,-7.3 M17.8,-17.0 L14.7,-5.6 M26.8,-14.2 C26.5,-10.5 25.6,-7.8 24.6,-5.8 M25.6,-17.2 C25.0,-17.2 24.4,-16.6 25.2,-15.6" stroke-width="3.10" vector-effect="non-scaling-stroke"/></g></g>
<text x="346.37" y="1015.00" font-size="41.22">l</text>
<text transform="translate(356.05,1015.00) scale(1.0599,1)" font-size="40.96">o</text>
<text transform="translate(376.61,1015.00) scale(1.1724,1)" font-size="37.59">g</text>
<text transform="translate(409.34,1015.00) scale(1.0928,1)" font-size="42.91" font-style="italic">N</text>
<g transform="translate(33.2,858.1) rotate(-90)"><text x="-0.85" y="0.00" font-size="42.23">l</text><text transform="translate(10.12,0.50) scale(1.0242,1)" font-size="40.54">o</text><text transform="translate(30.84,0.00) scale(1.1376,1)" font-size="38.13">g</text><text transform="translate(55.61,0.00) scale(0.8362,1)" font-size="46.10">(</text><path fill-rule="evenodd" d="M71.60,0.00 L87.30,-30.00 L101.60,0.00 Z M74.22,-2.20 L96.56,-2.20 L85.91,-24.54 Z"/><text transform="translate(104.32,0.00) scale(1.2411,1)" font-size="42.91" font-style="italic">E</text><path d="M139.7,10.1 L155.0,-31.0" stroke="#000" stroke-width="1.75" fill="none"/><g transform="translate(159.45,0.25) scale(0.955,0.995)" fill="none" stroke="#000" stroke-linecap="round"><path d="M0,-11.8 C1.2,-15.6 2.6,-18.1 4.8,-18.1 C7.2,-18.2 8.0,-16.4 7.4,-14.0 L5.4,-7.2 C4.5,-3.8 4.6,0.3 8.4,0.3 C11.4,0.3 13.4,-2.2 14.3,-4.7 M17.9,-17.2 L14.5,-5.0 C13.9,-2.2 15.3,0.3 18.4,0.3 C23.2,0.3 26.5,-7.8 26.9,-13.6 C27.1,-16.2 26.4,-17.5 25.4,-17.5 C24.4,-17.5 24.0,-16.6 24.5,-15.8" stroke-width="1.75" vector-effect="non-scaling-stroke"/><path d="M7.3,-14.2 L5.3,-7.3 M17.8,-17.0 L14.7,-5.6 M26.8,-14.2 C26.5,-10.5 25.6,-7.8 24.6,-5.8 M25.6,-17.2 C25.0,-17.2 24.4,-16.6 25.2,-15.6" stroke-width="3.10" vector-effect="non-scaling-stroke"/></g><text transform="translate(189.77,0.00) scale(0.8357,1)" font-size="45.66">)</text></g>
<text x="-1.00" y="535.50" font-size="40.5" text-anchor="start">(b)</text>
<text x="100.70" y="533.40" font-size="36" text-anchor="end">0</text>
<text x="100.70" y="654.31" font-size="36" text-anchor="end">-10</text>
<text x="100.70" y="775.23" font-size="36" text-anchor="end">-20</text>
<text x="100.70" y="896.14" font-size="36" text-anchor="end">-30</text>
<text x="109.40" y="978.20" font-size="36" text-anchor="middle">1</text>
<text x="249.25" y="978.20" font-size="36" text-anchor="middle">1.5</text>
<text x="389.10" y="978.20" font-size="36" text-anchor="middle">2</text>
<text x="528.95" y="978.20" font-size="36" text-anchor="middle">2.5</text>
<text x="668.80" y="978.20" font-size="36" text-anchor="middle">3</text>
</g>
</svg>
</body></html>
